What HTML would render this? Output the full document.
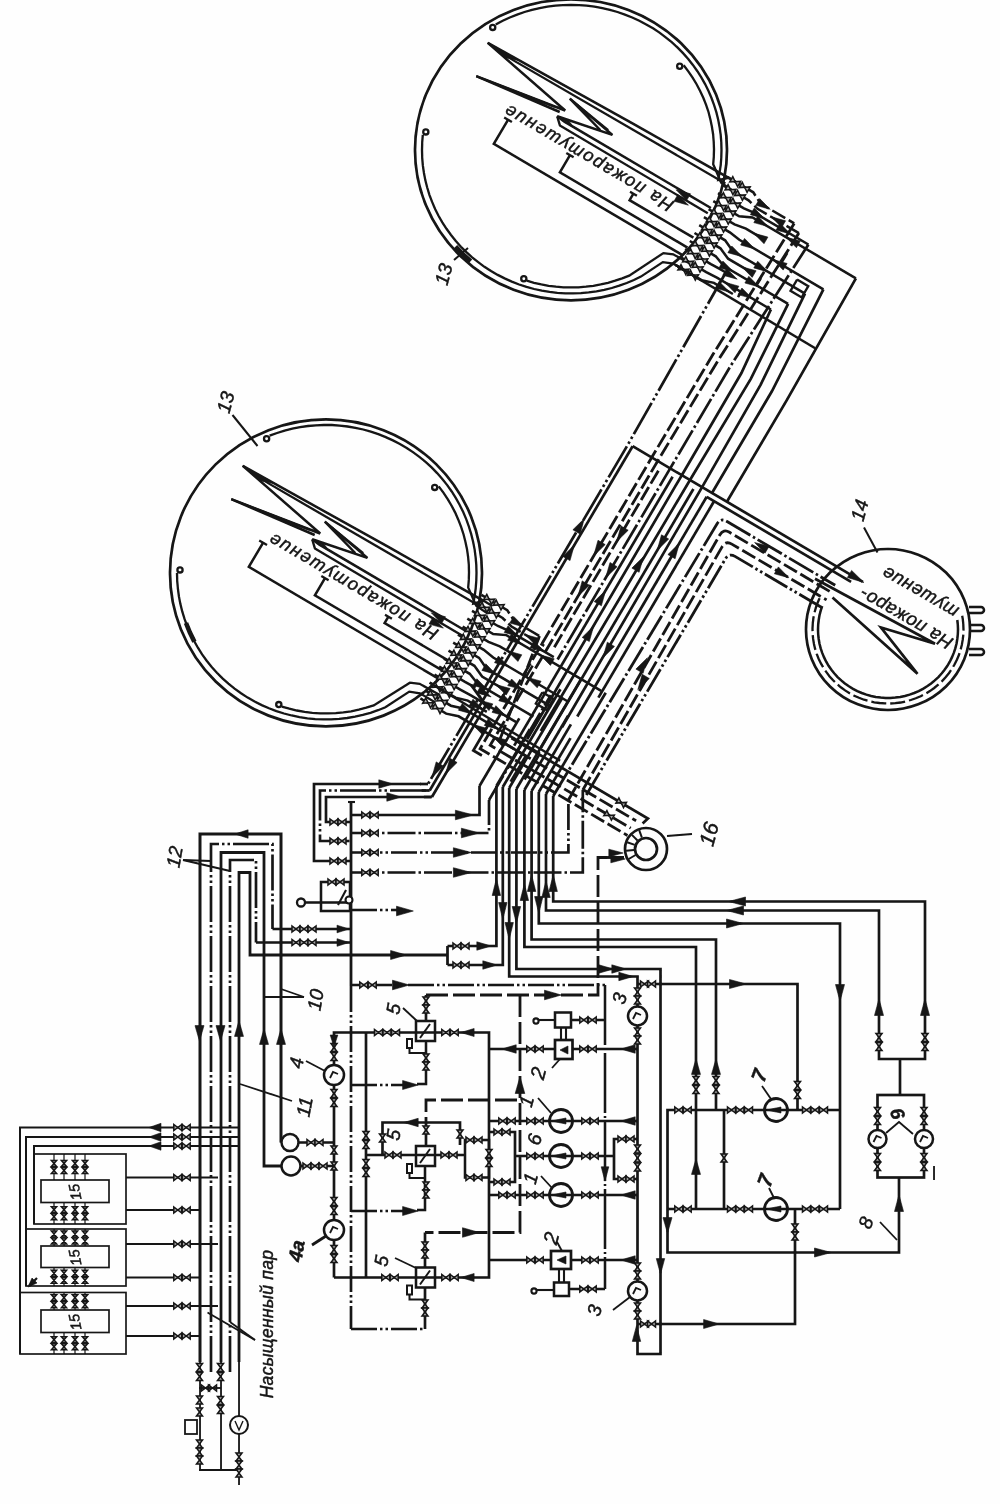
<!DOCTYPE html>
<html><head><meta charset="utf-8"><title>Схема</title>
<style>
html,body{margin:0;padding:0;background:#fefefe;}
body{width:1000px;height:1504px;overflow:hidden;font-family:"Liberation Sans",sans-serif;}
svg{display:block;}
svg *{stroke:#141414;}
svg polyline, svg path{fill:none;stroke-linecap:butt;stroke-linejoin:miter;}
svg text{stroke-width:0.45px;fill:#141414;font-family:"Liberation Sans",sans-serif;}
</style></head><body>
<svg width="1000" height="1504" viewBox="0 0 1000 1504">
<defs><filter id="bl" x="0" y="0" width="1000" height="1504" filterUnits="userSpaceOnUse"><feGaussianBlur stdDeviation="0.55"/></filter></defs>
<rect x="0" y="0" width="1000" height="1504" fill="#fefefe" stroke="none" style="stroke:none"/>
<g filter="url(#bl)">
<polyline points="200,1362 200,834 281,834 281,1142.5" stroke-width="3"/>
<polyline points="200,1362 200,1470" stroke-width="1.8"/>
<polyline points="211,1372 211,844 272.5,844 272.5,929" stroke-width="2.7" stroke-dasharray="36 3 2.5 3 2.5 3"/>
<polyline points="272.5,929 351,929" stroke-width="2.7"/>
<polyline points="221,1362 221,852.5 264,852.5 264,1166 282,1166" stroke-width="2.8"/>
<polyline points="221,1362 221,1470" stroke-width="1.8"/>
<polyline points="230,1372 230,860 256,860 256,942.5" stroke-width="2.7" stroke-dasharray="36 3 2.5 3 2.5 3"/>
<polyline points="256,942.5 351,942.5" stroke-width="2.7"/>
<polyline points="239,1362 239,872.5 250,872.5 250,955 447.5,955" stroke-width="2.8"/>
<polyline points="239,1362 239,1485" stroke-width="1.8"/>
<polygon points="234.9,834 248.1,829.8 248.1,838.2" fill="#141414" stroke-width="0.6"/>
<polygon points="199.5,1041.2 195,1025.6 204,1025.6" fill="#141414" stroke-width="0.6"/>
<polygon points="220.5,1041.2 216,1025.6 225,1025.6" fill="#141414" stroke-width="0.6"/>
<polygon points="239,1020.8 243.5,1036.4 234.5,1036.4" fill="#141414" stroke-width="0.6"/>
<polygon points="264,1028.8 268.5,1044.4 259.5,1044.4" fill="#141414" stroke-width="0.6"/>
<polygon points="281,1028.8 285.5,1044.4 276.5,1044.4" fill="#141414" stroke-width="0.6"/>
<polygon points="292,926 292,932 300,926 300,932" fill="#a8a8a8" stroke-width="1.5"/>
<polygon points="300,926 300,932 308,926 308,932" fill="#a8a8a8" stroke-width="1.5"/>
<polygon points="308,926 308,932 316,926 316,932" fill="#a8a8a8" stroke-width="1.5"/>
<polygon points="349,929 337,932.8 337,925.2" fill="#141414" stroke-width="0.6"/>
<polygon points="292,939.5 292,945.5 300,939.5 300,945.5" fill="#a8a8a8" stroke-width="1.5"/>
<polygon points="300,939.5 300,945.5 308,939.5 308,945.5" fill="#a8a8a8" stroke-width="1.5"/>
<polygon points="308,939.5 308,945.5 316,939.5 316,945.5" fill="#a8a8a8" stroke-width="1.5"/>
<polygon points="349,942.5 337,946.3 337,938.7" fill="#141414" stroke-width="0.6"/>
<polygon points="406.2,955 390.6,959.5 390.6,950.5" fill="#141414" stroke-width="0.6"/>
<text x="0" y="0" transform="translate(181 858) rotate(-80)" font-size="19.2" font-style="italic" font-weight="normal" text-anchor="middle">12</text>
<polyline points="183,860 211,861" stroke-width="1.8"/>
<polyline points="183,860 230,871" stroke-width="1.8"/>
<text x="0" y="0" transform="translate(322 1001) rotate(-80)" font-size="19.2" font-style="italic" font-weight="normal" text-anchor="middle">10</text>
<polyline points="304,997 265,997" stroke-width="1.8"/>
<polyline points="304,997 281,989" stroke-width="1.8"/>
<text x="0" y="0" transform="translate(311 1108) rotate(-80)" font-size="19.2" font-style="italic" font-weight="normal" text-anchor="middle">11</text>
<polyline points="240,1084 292,1101" stroke-width="1.8"/>
<polyline points="421,784 314,784 314,861 351,861" stroke-width="2.7"/>
<polyline points="426,790.5 320,790.5 320,841 351,841" stroke-width="2.7" stroke-dasharray="36 3 2.5 3 2.5 3"/>
<polyline points="431,797 326,797 326,822 351,822" stroke-width="2.7"/>
<polygon points="330,858 330,864 338,858 338,864" fill="#a8a8a8" stroke-width="1.5"/>
<polygon points="338,858 338,864 346,858 346,864" fill="#a8a8a8" stroke-width="1.5"/>
<polygon points="330,838 330,844 338,838 338,844" fill="#a8a8a8" stroke-width="1.5"/>
<polygon points="338,838 338,844 346,838 346,844" fill="#a8a8a8" stroke-width="1.5"/>
<polygon points="330,819 330,825 338,819 338,825" fill="#a8a8a8" stroke-width="1.5"/>
<polygon points="338,819 338,825 346,819 346,825" fill="#a8a8a8" stroke-width="1.5"/>
<polygon points="393.2,784 378.8,788.2 378.8,779.8" fill="#141414" stroke-width="0.6"/>
<polygon points="401.2,797 386.8,801.2 386.8,792.8" fill="#141414" stroke-width="0.6"/>
<polyline points="351,802 351,986" stroke-width="2.8"/>
<polyline points="351,986 351,1329" stroke-width="2.7" stroke-dasharray="26 3 2.5 3 2.5 3"/>
<polyline points="348,802 355,802" stroke-width="2.1"/>
<polyline points="351,815 479.5,815 479.5,786" stroke-width="2.7"/>
<polyline points="351,833 489,833 489,800" stroke-width="2.7" stroke-dasharray="28 3 2.5 3"/>
<polyline points="351,852.5 568.4,852.5 568.4,800" stroke-width="2.7" stroke-dasharray="26 3 2.5 3 2.5 3"/>
<polyline points="351,872.5 582.8,872.5 582.8,790" stroke-width="2.7" stroke-dasharray="28 3 2.5 3"/>
<polygon points="361.8,812 361.8,818 369.8,812 369.8,818" fill="#a8a8a8" stroke-width="1.5"/>
<polygon points="370.2,812 370.2,818 378.2,812 378.2,818" fill="#a8a8a8" stroke-width="1.5"/>
<polygon points="361.8,830 361.8,836 369.8,830 369.8,836" fill="#a8a8a8" stroke-width="1.5"/>
<polygon points="370.2,830 370.2,836 378.2,830 378.2,836" fill="#a8a8a8" stroke-width="1.5"/>
<polygon points="361.8,849.5 361.8,855.5 369.8,849.5 369.8,855.5" fill="#a8a8a8" stroke-width="1.5"/>
<polygon points="370.2,849.5 370.2,855.5 378.2,849.5 378.2,855.5" fill="#a8a8a8" stroke-width="1.5"/>
<polygon points="361.8,869.5 361.8,875.5 369.8,869.5 369.8,875.5" fill="#a8a8a8" stroke-width="1.5"/>
<polygon points="370.2,869.5 370.2,875.5 378.2,869.5 378.2,875.5" fill="#a8a8a8" stroke-width="1.5"/>
<polygon points="473.4,815 455.4,819.8 455.4,810.2" fill="#141414" stroke-width="0.6"/>
<polygon points="479.4,833 461.4,837.8 461.4,828.2" fill="#141414" stroke-width="0.6"/>
<polygon points="471.4,852.5 453.4,857.3 453.4,847.7" fill="#141414" stroke-width="0.6"/>
<polygon points="471.4,872.5 453.4,877.3 453.4,867.7" fill="#141414" stroke-width="0.6"/>
<rect x="321" y="882" width="29" height="29" stroke-width="2.5" fill="none"/>
<circle cx="301" cy="902.5" r="4" stroke-width="2.3" fill="#fdfdfd"/>
<polyline points="305,902.5 351,902.5" stroke-width="2.3"/>
<polygon points="328,879 328,885 336,879 336,885" fill="#a8a8a8" stroke-width="1.5"/>
<polygon points="336,879 336,885 344,879 344,885" fill="#a8a8a8" stroke-width="1.5"/>
<polyline points="338,905 346,890" stroke-width="2.1"/>
<circle cx="349" cy="900" r="3.5" stroke-width="2.1" fill="#fdfdfd"/>
<polyline points="351,910 400,910" stroke-width="2.7" stroke-dasharray="26 3 2.5 3 2.5 3"/>
<polygon points="413.3,911 396.5,915.8 396.5,906.2" fill="#141414" stroke-width="0.6"/>
<polyline points="447.5,946 447.5,965" stroke-width="2.7"/>
<polyline points="447.5,946 496.4,946 496.4,786" stroke-width="2.7"/>
<polyline points="447.5,965 502.8,965 502.8,787" stroke-width="2.7"/>
<polygon points="453,943 453,949 461,943 461,949" fill="#a8a8a8" stroke-width="1.5"/>
<polygon points="461,943 461,949 469,943 469,949" fill="#a8a8a8" stroke-width="1.5"/>
<polygon points="453,962 453,968 461,962 461,968" fill="#a8a8a8" stroke-width="1.5"/>
<polygon points="461,962 461,968 469,962 469,968" fill="#a8a8a8" stroke-width="1.5"/>
<polygon points="491.2,946 476.8,950.2 476.8,941.8" fill="#141414" stroke-width="0.6"/>
<polygon points="497.2,965 482.8,969.2 482.8,960.8" fill="#141414" stroke-width="0.6"/>
<polyline points="351,985 392,985" stroke-width="2.7"/>
<polygon points="359.8,982 359.8,988 367.8,982 367.8,988" fill="#a8a8a8" stroke-width="1.5"/>
<polygon points="368.2,982 368.2,988 376.2,982 376.2,988" fill="#a8a8a8" stroke-width="1.5"/>
<polygon points="409.3,985 392.5,989.8 392.5,980.2" fill="#141414" stroke-width="0.6"/>
<polyline points="408,985 605,985" stroke-width="2.5" stroke-dasharray="26 3 2.5 3 2.5 3"/>
<polyline points="605,985 605,1289" stroke-width="2.5" stroke-dasharray="60 3 2 3"/>
<polyline points="509.2,788 509.2,976.5 637.5,976.5 637.5,1354 660.5,1354 660.5,969 516.4,969 516.4,789" stroke-width="2.7"/>
<polyline points="524.4,790 524.4,947 696,947 696,1209" stroke-width="2.7"/>
<polyline points="531.6,791 531.6,939.5 716,939.5 716,1110" stroke-width="2.7"/>
<polyline points="538.8,792 538.8,923.5 840,923.5 840,1209" stroke-width="2.7"/>
<polyline points="546,794 546,910.5 879,910.5 879,1059 925,1059 925,901.5 553.2,901.5 553.2,796" stroke-width="2.7"/>
<polygon points="496.4,878.7 500.6,895.5 492.2,895.5" fill="#141414" stroke-width="0.6"/>
<polygon points="524.4,883.7 528.6,900.5 520.2,900.5" fill="#141414" stroke-width="0.6"/>
<polygon points="531.6,874.7 535.8,891.5 527.4,891.5" fill="#141414" stroke-width="0.6"/>
<polygon points="546,880.7 550.2,897.5 541.8,897.5" fill="#141414" stroke-width="0.6"/>
<polygon points="553.2,874.7 557.4,891.5 549,891.5" fill="#141414" stroke-width="0.6"/>
<polygon points="502.8,919.3 498.6,902.5 507,902.5" fill="#141414" stroke-width="0.6"/>
<polygon points="509.2,939.3 505,922.5 513.4,922.5" fill="#141414" stroke-width="0.6"/>
<polygon points="516.4,923.3 512.2,906.5 520.6,906.5" fill="#141414" stroke-width="0.6"/>
<polygon points="538.8,913.3 534.6,896.5 543,896.5" fill="#141414" stroke-width="0.6"/>
<polygon points="728.7,901.5 745.5,897 745.5,906" fill="#141414" stroke-width="0.6"/>
<polygon points="726.7,910.5 743.5,906 743.5,915" fill="#141414" stroke-width="0.6"/>
<polygon points="743.3,923.5 726.5,928 726.5,919" fill="#141414" stroke-width="0.6"/>
<polygon points="626.2,969 611.8,973.2 611.8,964.8" fill="#141414" stroke-width="0.6"/>
<polygon points="633.2,976.5 618.8,980.7 618.8,972.3" fill="#141414" stroke-width="0.6"/>
<polyline points="426,995 426,1021" stroke-width="2.7"/>
<polyline points="426,995 598,995 598,857.5 624,857.5" stroke-width="2.8" stroke-dasharray="22 5"/>
<polygon points="561.3,995 544.5,999.8 544.5,990.2" fill="#141414" stroke-width="0.6"/>
<polygon points="623.2,853 608.8,856.8 608.8,849.2" fill="#141414" stroke-width="0.6"/>
<polygon points="625.2,859 610.8,862.8 610.8,855.2" fill="#141414" stroke-width="0.6"/>
<polyline points="603,857.5 616,857.5" stroke-width="2.8"/>
<polyline points="520,995 520,1232.5 425,1232.5" stroke-width="2.8" stroke-dasharray="22 5"/>
<polyline points="425,1232.5 425,1267" stroke-width="2.7"/>
<polygon points="520,1076.7 524.8,1093.5 515.2,1093.5" fill="#141414" stroke-width="0.6"/>
<polygon points="479.3,1232.5 462.5,1237.3 462.5,1227.7" fill="#141414" stroke-width="0.6"/>
<polyline points="517,1100 426,1100 426,1122" stroke-width="2.8" stroke-dasharray="22 5"/>
<polyline points="426,1122 426,1146" stroke-width="2.7"/>
<polyline points="334,1277.5 334,1032.5 489,1032.5 489,1277.5 334,1277.5" stroke-width="2.7"/>
<circle cx="334" cy="1075" r="10" stroke-width="2.5" fill="#fdfdfd"/>
<circle cx="334" cy="1230" r="10" stroke-width="2.5" fill="#fdfdfd"/>
<polyline points="330,1078 333,1072 338,1074" stroke-width="1.8"/>
<polyline points="330,1233 333,1227 338,1229" stroke-width="1.8"/>
<polygon points="337,1043.5 331,1043.5 337,1051.5 331,1051.5" fill="#a8a8a8" stroke-width="1.5"/>
<polygon points="337,1052.5 331,1052.5 337,1060.5 331,1060.5" fill="#a8a8a8" stroke-width="1.5"/>
<polygon points="337,1089.5 331,1089.5 337,1097.5 331,1097.5" fill="#a8a8a8" stroke-width="1.5"/>
<polygon points="337,1098.5 331,1098.5 337,1106.5 331,1106.5" fill="#a8a8a8" stroke-width="1.5"/>
<polygon points="337,1197.5 331,1197.5 337,1205.5 331,1205.5" fill="#a8a8a8" stroke-width="1.5"/>
<polygon points="337,1206.5 331,1206.5 337,1214.5 331,1214.5" fill="#a8a8a8" stroke-width="1.5"/>
<polygon points="337,1245.5 331,1245.5 337,1253.5 331,1253.5" fill="#a8a8a8" stroke-width="1.5"/>
<polygon points="337,1254.5 331,1254.5 337,1262.5 331,1262.5" fill="#a8a8a8" stroke-width="1.5"/>
<polygon points="334,1047 330.2,1035 337.8,1035" fill="#141414" stroke-width="0.6"/>
<circle cx="290" cy="1142.5" r="8.5" stroke-width="2.5" fill="#fdfdfd"/>
<circle cx="291" cy="1166" r="9.5" stroke-width="2.5" fill="#fdfdfd"/>
<polyline points="298.5,1142.5 334,1142.5" stroke-width="2.5"/>
<polyline points="300.5,1166 334,1166" stroke-width="2.5"/>
<polygon points="307,1139.5 307,1145.5 315,1139.5 315,1145.5" fill="#a8a8a8" stroke-width="1.5"/>
<polygon points="315,1139.5 315,1145.5 323,1139.5 323,1145.5" fill="#a8a8a8" stroke-width="1.5"/>
<polygon points="303,1163 303,1169 311,1163 311,1169" fill="#a8a8a8" stroke-width="1.5"/>
<polygon points="311,1163 311,1169 319,1163 319,1169" fill="#a8a8a8" stroke-width="1.5"/>
<polygon points="319,1163 319,1169 327,1163 327,1169" fill="#a8a8a8" stroke-width="1.5"/>
<polygon points="337,1146 331,1146 337,1154 331,1154" fill="#a8a8a8" stroke-width="1.5"/>
<polygon points="337,1162 331,1162 337,1170 331,1170" fill="#a8a8a8" stroke-width="1.5"/>
<text x="0" y="0" transform="translate(303 1064) rotate(-80)" font-size="19.2" font-style="italic" font-weight="normal" text-anchor="middle">4</text>
<polyline points="306,1061 325,1071" stroke-width="1.8"/>
<text x="0" y="0" transform="translate(303 1252) rotate(-80)" font-size="19.2" font-style="italic" font-weight="bold" text-anchor="middle">4a</text>
<polyline points="312,1245 326,1236" stroke-width="2.8"/>
<polyline points="366,1032.5 366,1277.5" stroke-width="2.7"/>
<polygon points="369,1131.5 363,1131.5 369,1139.5 363,1139.5" fill="#a8a8a8" stroke-width="1.5"/>
<polygon points="369,1140.5 363,1140.5 369,1148.5 363,1148.5" fill="#a8a8a8" stroke-width="1.5"/>
<polygon points="369,1159.5 363,1159.5 369,1167.5 363,1167.5" fill="#a8a8a8" stroke-width="1.5"/>
<polygon points="369,1168.5 363,1168.5 369,1176.5 363,1176.5" fill="#a8a8a8" stroke-width="1.5"/>
<polyline points="351,1085 405,1085" stroke-width="2.7" stroke-dasharray="26 3 2.5 3 2.5 3"/>
<polygon points="418.2,1085 402.6,1089.5 402.6,1080.5" fill="#141414" stroke-width="0.6"/>
<polyline points="417,1084 426,1084 426,1041" stroke-width="2.5"/>
<polyline points="351,1211 405,1211" stroke-width="2.7" stroke-dasharray="26 3 2.5 3 2.5 3"/>
<polygon points="418.2,1211 402.6,1215.5 402.6,1206.5" fill="#141414" stroke-width="0.6"/>
<polyline points="417,1210 425,1210 425,1166" stroke-width="2.5"/>
<polyline points="351,1329 425,1329" stroke-width="2.7" stroke-dasharray="26 3 2.5 3 2.5 3"/>
<polyline points="425,1288 425,1329" stroke-width="2.7"/>
<rect x="416" y="1021" width="19" height="20" stroke-width="2.5" fill="none"/>
<polyline points="420,1038 430,1024" stroke-width="2"/>
<rect x="407" y="1039" width="5" height="9" stroke-width="2" fill="none"/>
<polyline points="409.5,1048 409.5,1053 426,1053" stroke-width="2"/>
<rect x="416" y="1146" width="19" height="20" stroke-width="2.5" fill="none"/>
<polyline points="420,1163 430,1149" stroke-width="2"/>
<rect x="407" y="1164" width="5" height="9" stroke-width="2" fill="none"/>
<polyline points="409.5,1173 409.5,1178 426,1178" stroke-width="2"/>
<rect x="416" y="1267.5" width="19" height="20" stroke-width="2.5" fill="none"/>
<polyline points="420,1284.5 430,1270.5" stroke-width="2"/>
<rect x="407" y="1285.5" width="5" height="9" stroke-width="2" fill="none"/>
<polyline points="409.5,1294.5 409.5,1299.5 426,1299.5" stroke-width="2"/>
<polygon points="374.5,1029.5 374.5,1035.5 382.5,1029.5 382.5,1035.5" fill="#a8a8a8" stroke-width="1.5"/>
<polygon points="383,1029.5 383,1035.5 391,1029.5 391,1035.5" fill="#a8a8a8" stroke-width="1.5"/>
<polygon points="391.5,1029.5 391.5,1035.5 399.5,1029.5 399.5,1035.5" fill="#a8a8a8" stroke-width="1.5"/>
<polygon points="441.8,1029.5 441.8,1035.5 449.8,1029.5 449.8,1035.5" fill="#a8a8a8" stroke-width="1.5"/>
<polygon points="450.2,1029.5 450.2,1035.5 458.2,1029.5 458.2,1035.5" fill="#a8a8a8" stroke-width="1.5"/>
<polygon points="460.9,1032.5 474.1,1028.5 474.1,1036.5" fill="#141414" stroke-width="0.6"/>
<polygon points="429,997 423,997 429,1005 423,1005" fill="#a8a8a8" stroke-width="1.5"/>
<polygon points="429,1005 423,1005 429,1013 423,1013" fill="#a8a8a8" stroke-width="1.5"/>
<polygon points="429,1054 423,1054 429,1062 423,1062" fill="#a8a8a8" stroke-width="1.5"/>
<polygon points="429,1062 423,1062 429,1070 423,1070" fill="#a8a8a8" stroke-width="1.5"/>
<text x="0" y="0" transform="translate(400 1010) rotate(-80)" font-size="19.2" font-style="italic" font-weight="normal" text-anchor="middle">5</text>
<polyline points="403,1008 417,1021" stroke-width="1.8"/>
<polyline points="366,1155 465,1155" stroke-width="2.7"/>
<polyline points="382.5,1155 382.5,1122.5 460,1122.5 460,1145" stroke-width="2.7"/>
<polygon points="403.8,1122.5 418.2,1118.3 418.2,1126.7" fill="#141414" stroke-width="0.6"/>
<polygon points="385,1152 385,1158 393,1152 393,1158" fill="#a8a8a8" stroke-width="1.5"/>
<polygon points="393,1152 393,1158 401,1152 401,1158" fill="#a8a8a8" stroke-width="1.5"/>
<polygon points="441,1152 441,1158 449,1152 449,1158" fill="#a8a8a8" stroke-width="1.5"/>
<polygon points="449,1152 449,1158 457,1152 457,1158" fill="#a8a8a8" stroke-width="1.5"/>
<polygon points="385.5,1134 379.5,1134 385.5,1142 379.5,1142" fill="#a8a8a8" stroke-width="1.5"/>
<polygon points="463,1130 457,1130 463,1138 457,1138" fill="#a8a8a8" stroke-width="1.5"/>
<polygon points="429,1126 423,1126 429,1134 423,1134" fill="#a8a8a8" stroke-width="1.5"/>
<polygon points="429,1182 423,1182 429,1190 423,1190" fill="#a8a8a8" stroke-width="1.5"/>
<polygon points="429,1190 423,1190 429,1198 423,1198" fill="#a8a8a8" stroke-width="1.5"/>
<text x="0" y="0" transform="translate(400 1136) rotate(-80)" font-size="19.2" font-style="italic" font-weight="normal" text-anchor="middle">5</text>
<rect x="465" y="1140" width="24" height="37.5" stroke-width="2.5" fill="none"/>
<polygon points="466,1137 466,1143 474,1137 474,1143" fill="#a8a8a8" stroke-width="1.5"/>
<polygon points="474,1137 474,1143 482,1137 482,1143" fill="#a8a8a8" stroke-width="1.5"/>
<polygon points="466,1174.5 466,1180.5 474,1174.5 474,1180.5" fill="#a8a8a8" stroke-width="1.5"/>
<polygon points="474,1174.5 474,1180.5 482,1174.5 482,1180.5" fill="#a8a8a8" stroke-width="1.5"/>
<polygon points="492,1149.5 486,1149.5 492,1157.5 486,1157.5" fill="#a8a8a8" stroke-width="1.5"/>
<polygon points="492,1158.5 486,1158.5 492,1166.5 486,1166.5" fill="#a8a8a8" stroke-width="1.5"/>
<polygon points="381.8,1274.5 381.8,1280.5 389.8,1274.5 389.8,1280.5" fill="#a8a8a8" stroke-width="1.5"/>
<polygon points="390.2,1274.5 390.2,1280.5 398.2,1274.5 398.2,1280.5" fill="#a8a8a8" stroke-width="1.5"/>
<polygon points="441.8,1274.5 441.8,1280.5 449.8,1274.5 449.8,1280.5" fill="#a8a8a8" stroke-width="1.5"/>
<polygon points="450.2,1274.5 450.2,1280.5 458.2,1274.5 458.2,1280.5" fill="#a8a8a8" stroke-width="1.5"/>
<polygon points="460.9,1277.5 474.1,1273.5 474.1,1281.5" fill="#141414" stroke-width="0.6"/>
<polygon points="428,1242 422,1242 428,1250 422,1250" fill="#a8a8a8" stroke-width="1.5"/>
<polygon points="428,1250 422,1250 428,1258 422,1258" fill="#a8a8a8" stroke-width="1.5"/>
<polygon points="428,1300 422,1300 428,1308 422,1308" fill="#a8a8a8" stroke-width="1.5"/>
<polygon points="428,1308 422,1308 428,1316 422,1316" fill="#a8a8a8" stroke-width="1.5"/>
<text x="0" y="0" transform="translate(388 1262) rotate(-80)" font-size="19.2" font-style="italic" font-weight="normal" text-anchor="middle">5</text>
<polyline points="395,1258 416,1268" stroke-width="1.8"/>
<polyline points="489,1049 637.5,1049" stroke-width="2.7"/>
<rect x="555" y="1040" width="17.5" height="19" stroke-width="2.7" fill="#fdfdfd"/>
<rect x="555" y="1012.5" width="16" height="15" stroke-width="2.5" fill="none"/>
<polyline points="561,1027.5 561,1040" stroke-width="2.1"/>
<polyline points="566,1027.5 566,1040" stroke-width="2.1"/>
<circle cx="536" cy="1021" r="2.6" stroke-width="2.1" fill="#fdfdfd"/>
<polyline points="539,1020 555,1020" stroke-width="2.1"/>
<polyline points="571,1020 605,1020" stroke-width="2.3"/>
<polygon points="579.8,1017 579.8,1023 587.8,1017 587.8,1023" fill="#a8a8a8" stroke-width="1.5"/>
<polygon points="588.2,1017 588.2,1023 596.2,1017 596.2,1023" fill="#a8a8a8" stroke-width="1.5"/>
<polygon points="560,1050 568,1046 568,1054" fill="#141414" stroke-width="0.6"/>
<polygon points="501.8,1049 516.2,1044.8 516.2,1053.2" fill="#141414" stroke-width="0.6"/>
<polygon points="526.8,1046 526.8,1052 534.8,1046 534.8,1052" fill="#a8a8a8" stroke-width="1.5"/>
<polygon points="535.2,1046 535.2,1052 543.2,1046 543.2,1052" fill="#a8a8a8" stroke-width="1.5"/>
<polygon points="579.8,1046 579.8,1052 587.8,1046 587.8,1052" fill="#a8a8a8" stroke-width="1.5"/>
<polygon points="588.2,1046 588.2,1052 596.2,1046 596.2,1052" fill="#a8a8a8" stroke-width="1.5"/>
<polygon points="620.8,1049 635.2,1044.8 635.2,1053.2" fill="#141414" stroke-width="0.6"/>
<text x="0" y="0" transform="translate(545 1075) rotate(-75)" font-size="20.5" font-style="italic" font-weight="normal" text-anchor="middle">2</text>
<polyline points="552,1068 560,1059" stroke-width="1.8"/>
<circle cx="561" cy="1121" r="11.5" stroke-width="2.8" fill="none"/>
<polygon points="551,1121 566,1118 566,1124" fill="#141414" stroke-width="0.6"/>
<circle cx="561" cy="1156" r="11.5" stroke-width="2.8" fill="none"/>
<polygon points="551,1156 566,1153 566,1159" fill="#141414" stroke-width="0.6"/>
<circle cx="561" cy="1195" r="11.5" stroke-width="2.8" fill="none"/>
<polygon points="551,1195 566,1192 566,1198" fill="#141414" stroke-width="0.6"/>
<polyline points="489,1121 637.5,1121" stroke-width="2.7"/>
<polyline points="489,1195 637.5,1195" stroke-width="2.7"/>
<polyline points="515,1156 614,1156" stroke-width="2.7"/>
<polygon points="498.8,1118 498.8,1124 506.8,1118 506.8,1124" fill="#a8a8a8" stroke-width="1.5"/>
<polygon points="507.2,1118 507.2,1124 515.2,1118 515.2,1124" fill="#a8a8a8" stroke-width="1.5"/>
<polygon points="526.8,1118 526.8,1124 534.8,1118 534.8,1124" fill="#a8a8a8" stroke-width="1.5"/>
<polygon points="535.2,1118 535.2,1124 543.2,1118 543.2,1124" fill="#a8a8a8" stroke-width="1.5"/>
<polygon points="581.8,1118 581.8,1124 589.8,1118 589.8,1124" fill="#a8a8a8" stroke-width="1.5"/>
<polygon points="590.2,1118 590.2,1124 598.2,1118 598.2,1124" fill="#a8a8a8" stroke-width="1.5"/>
<polygon points="620.8,1121 635.2,1116.8 635.2,1125.2" fill="#141414" stroke-width="0.6"/>
<polygon points="498.8,1192 498.8,1198 506.8,1192 506.8,1198" fill="#a8a8a8" stroke-width="1.5"/>
<polygon points="507.2,1192 507.2,1198 515.2,1192 515.2,1198" fill="#a8a8a8" stroke-width="1.5"/>
<polygon points="526.8,1192 526.8,1198 534.8,1192 534.8,1198" fill="#a8a8a8" stroke-width="1.5"/>
<polygon points="535.2,1192 535.2,1198 543.2,1192 543.2,1198" fill="#a8a8a8" stroke-width="1.5"/>
<polygon points="581.8,1192 581.8,1198 589.8,1192 589.8,1198" fill="#a8a8a8" stroke-width="1.5"/>
<polygon points="590.2,1192 590.2,1198 598.2,1192 598.2,1198" fill="#a8a8a8" stroke-width="1.5"/>
<polygon points="620.8,1195 635.2,1190.8 635.2,1199.2" fill="#141414" stroke-width="0.6"/>
<polygon points="526.8,1153 526.8,1159 534.8,1153 534.8,1159" fill="#a8a8a8" stroke-width="1.5"/>
<polygon points="535.2,1153 535.2,1159 543.2,1153 543.2,1159" fill="#a8a8a8" stroke-width="1.5"/>
<polygon points="581.8,1153 581.8,1159 589.8,1153 589.8,1159" fill="#a8a8a8" stroke-width="1.5"/>
<polygon points="590.2,1153 590.2,1159 598.2,1153 598.2,1159" fill="#a8a8a8" stroke-width="1.5"/>
<polyline points="489,1132 515,1132 515,1182 489,1182" stroke-width="2.7"/>
<polygon points="494,1129 494,1135 502,1129 502,1135" fill="#a8a8a8" stroke-width="1.5"/>
<polygon points="502,1129 502,1135 510,1129 510,1135" fill="#a8a8a8" stroke-width="1.5"/>
<polygon points="494,1179 494,1185 502,1179 502,1185" fill="#a8a8a8" stroke-width="1.5"/>
<polygon points="502,1179 502,1185 510,1179 510,1185" fill="#a8a8a8" stroke-width="1.5"/>
<polyline points="637.5,1139 614,1139 614,1179 637.5,1179" stroke-width="2.7"/>
<polygon points="618,1136 618,1142 626,1136 626,1142" fill="#a8a8a8" stroke-width="1.5"/>
<polygon points="626,1136 626,1142 634,1136 634,1142" fill="#a8a8a8" stroke-width="1.5"/>
<polygon points="618,1176 618,1182 626,1176 626,1182" fill="#a8a8a8" stroke-width="1.5"/>
<polygon points="626,1176 626,1182 634,1176 634,1182" fill="#a8a8a8" stroke-width="1.5"/>
<polygon points="640.5,1145 634.5,1145 640.5,1153 634.5,1153" fill="#a8a8a8" stroke-width="1.5"/>
<polygon points="640.5,1154 634.5,1154 640.5,1162 634.5,1162" fill="#a8a8a8" stroke-width="1.5"/>
<polygon points="640.5,1163 634.5,1163 640.5,1171 634.5,1171" fill="#a8a8a8" stroke-width="1.5"/>
<text x="0" y="0" transform="translate(533 1103) rotate(-75)" font-size="19.2" font-style="italic" font-weight="normal" text-anchor="middle">1</text>
<polyline points="538,1098 551,1113" stroke-width="1.8"/>
<text x="0" y="0" transform="translate(541 1141) rotate(-75)" font-size="19.2" font-style="italic" font-weight="normal" text-anchor="middle">6</text>
<text x="0" y="0" transform="translate(537 1180) rotate(-75)" font-size="19.2" font-style="italic" font-weight="normal" text-anchor="middle">1</text>
<polyline points="541,1176 552,1188" stroke-width="1.8"/>
<polyline points="489,1260 637.5,1260" stroke-width="2.7"/>
<rect x="551" y="1251" width="20" height="18" stroke-width="2.7" fill="#fdfdfd"/>
<rect x="554" y="1282.5" width="15" height="13.5" stroke-width="2.5" fill="none"/>
<polyline points="559,1269 559,1282.5" stroke-width="2.1"/>
<polyline points="564,1269 564,1282.5" stroke-width="2.1"/>
<polygon points="557,1260 566,1256 566,1264" fill="#141414" stroke-width="0.6"/>
<circle cx="534" cy="1291" r="2.6" stroke-width="2.1" fill="#fdfdfd"/>
<polyline points="537,1290 554,1290" stroke-width="2.1"/>
<polyline points="569,1289 605,1289" stroke-width="2.3"/>
<polygon points="579.8,1286 579.8,1292 587.8,1286 587.8,1292" fill="#a8a8a8" stroke-width="1.5"/>
<polygon points="588.2,1286 588.2,1292 596.2,1286 596.2,1292" fill="#a8a8a8" stroke-width="1.5"/>
<polygon points="526.8,1257 526.8,1263 534.8,1257 534.8,1263" fill="#a8a8a8" stroke-width="1.5"/>
<polygon points="535.2,1257 535.2,1263 543.2,1257 543.2,1263" fill="#a8a8a8" stroke-width="1.5"/>
<polygon points="581.8,1257 581.8,1263 589.8,1257 589.8,1263" fill="#a8a8a8" stroke-width="1.5"/>
<polygon points="590.2,1257 590.2,1263 598.2,1257 598.2,1263" fill="#a8a8a8" stroke-width="1.5"/>
<polygon points="620.8,1260 635.2,1255.8 635.2,1264.2" fill="#141414" stroke-width="0.6"/>
<text x="0" y="0" transform="translate(558 1240) rotate(-75)" font-size="20.5" font-style="italic" font-weight="normal" text-anchor="middle">2</text>
<polyline points="557,1242 562,1251" stroke-width="1.8"/>
<polygon points="605,1181.2 601.2,1166.8 608.8,1166.8" fill="#141414" stroke-width="0.6"/>
<circle cx="637.5" cy="1016" r="9.5" stroke-width="2.5" fill="#fdfdfd"/>
<circle cx="637.5" cy="1291" r="9.5" stroke-width="2.5" fill="#fdfdfd"/>
<polyline points="633,1019 636,1013 641,1015" stroke-width="1.8"/>
<polyline points="633,1294 636,1288 641,1290" stroke-width="1.8"/>
<polygon points="640.5,988 634.5,988 640.5,996 634.5,996" fill="#a8a8a8" stroke-width="1.5"/>
<polygon points="640.5,996 634.5,996 640.5,1004 634.5,1004" fill="#a8a8a8" stroke-width="1.5"/>
<polygon points="640.5,1028 634.5,1028 640.5,1036 634.5,1036" fill="#a8a8a8" stroke-width="1.5"/>
<polygon points="640.5,1036 634.5,1036 640.5,1044 634.5,1044" fill="#a8a8a8" stroke-width="1.5"/>
<polygon points="640.5,1263 634.5,1263 640.5,1271 634.5,1271" fill="#a8a8a8" stroke-width="1.5"/>
<polygon points="640.5,1271 634.5,1271 640.5,1279 634.5,1279" fill="#a8a8a8" stroke-width="1.5"/>
<polygon points="640.5,1303 634.5,1303 640.5,1311 634.5,1311" fill="#a8a8a8" stroke-width="1.5"/>
<polygon points="640.5,1311 634.5,1311 640.5,1319 634.5,1319" fill="#a8a8a8" stroke-width="1.5"/>
<text x="0" y="0" transform="translate(626 1000) rotate(-75)" font-size="19.2" font-style="italic" font-weight="normal" text-anchor="middle">3</text>
<text x="0" y="0" transform="translate(601 1312) rotate(-75)" font-size="19.2" font-style="italic" font-weight="normal" text-anchor="middle">3</text>
<polyline points="613,1310 630,1297" stroke-width="1.8"/>
<polygon points="660.5,1274.2 656.3,1258.6 664.7,1258.6" fill="#141414" stroke-width="0.6"/>
<polygon points="636.5,1325.8 640.7,1341.4 632.3,1341.4" fill="#141414" stroke-width="0.6"/>
<polyline points="637.5,1324 795,1324 795,1209" stroke-width="2.7"/>
<polygon points="640.5,1321 640.5,1327 648.5,1321 648.5,1327" fill="#a8a8a8" stroke-width="1.5"/>
<polygon points="647.5,1321 647.5,1327 655.5,1321 655.5,1327" fill="#a8a8a8" stroke-width="1.5"/>
<polygon points="719.2,1324 703.6,1328.5 703.6,1319.5" fill="#141414" stroke-width="0.6"/>
<polyline points="637.5,984 797.5,984 797.5,1110" stroke-width="2.7"/>
<polygon points="640.5,981 640.5,987 648.5,981 648.5,987" fill="#a8a8a8" stroke-width="1.5"/>
<polygon points="647.5,981 647.5,987 655.5,981 655.5,987" fill="#a8a8a8" stroke-width="1.5"/>
<polygon points="746.3,984 729.5,988.5 729.5,979.5" fill="#141414" stroke-width="0.6"/>
<polygon points="613.2,969 598.8,973.2 598.8,964.8" fill="#141414" stroke-width="0.6"/>
<polyline points="899,1177.5 899,1252.5 667.5,1252.5 667.5,1110 840,1110" stroke-width="2.7"/>
<polyline points="667.5,1209 840,1209" stroke-width="2.7"/>
<polyline points="724,1110 724,1209" stroke-width="2.7"/>
<circle cx="776" cy="1110" r="11.5" stroke-width="2.8" fill="none"/>
<circle cx="776" cy="1209" r="11.5" stroke-width="2.8" fill="none"/>
<polygon points="766,1110 781,1107 781,1113" fill="#141414" stroke-width="0.6"/>
<polygon points="766,1209 781,1206 781,1212" fill="#141414" stroke-width="0.6"/>
<polygon points="674.8,1107 674.8,1113 682.8,1107 682.8,1113" fill="#a8a8a8" stroke-width="1.5"/>
<polygon points="683.2,1107 683.2,1113 691.2,1107 691.2,1113" fill="#a8a8a8" stroke-width="1.5"/>
<polygon points="727.5,1107 727.5,1113 735.5,1107 735.5,1113" fill="#a8a8a8" stroke-width="1.5"/>
<polygon points="736,1107 736,1113 744,1107 744,1113" fill="#a8a8a8" stroke-width="1.5"/>
<polygon points="744.5,1107 744.5,1113 752.5,1107 752.5,1113" fill="#a8a8a8" stroke-width="1.5"/>
<polygon points="802.5,1107 802.5,1113 810.5,1107 810.5,1113" fill="#a8a8a8" stroke-width="1.5"/>
<polygon points="811,1107 811,1113 819,1107 819,1113" fill="#a8a8a8" stroke-width="1.5"/>
<polygon points="819.5,1107 819.5,1113 827.5,1107 827.5,1113" fill="#a8a8a8" stroke-width="1.5"/>
<polygon points="674.8,1206 674.8,1212 682.8,1206 682.8,1212" fill="#a8a8a8" stroke-width="1.5"/>
<polygon points="683.2,1206 683.2,1212 691.2,1206 691.2,1212" fill="#a8a8a8" stroke-width="1.5"/>
<polygon points="727.5,1206 727.5,1212 735.5,1206 735.5,1212" fill="#a8a8a8" stroke-width="1.5"/>
<polygon points="736,1206 736,1212 744,1206 744,1212" fill="#a8a8a8" stroke-width="1.5"/>
<polygon points="744.5,1206 744.5,1212 752.5,1206 752.5,1212" fill="#a8a8a8" stroke-width="1.5"/>
<polygon points="802.5,1206 802.5,1212 810.5,1206 810.5,1212" fill="#a8a8a8" stroke-width="1.5"/>
<polygon points="811,1206 811,1212 819,1206 819,1212" fill="#a8a8a8" stroke-width="1.5"/>
<polygon points="819.5,1206 819.5,1212 827.5,1206 827.5,1212" fill="#a8a8a8" stroke-width="1.5"/>
<polygon points="699,1076.5 693,1076.5 699,1084.5 693,1084.5" fill="#a8a8a8" stroke-width="1.5"/>
<polygon points="699,1085.5 693,1085.5 699,1093.5 693,1093.5" fill="#a8a8a8" stroke-width="1.5"/>
<polygon points="719,1076.5 713,1076.5 719,1084.5 713,1084.5" fill="#a8a8a8" stroke-width="1.5"/>
<polygon points="719,1085.5 713,1085.5 719,1093.5 713,1093.5" fill="#a8a8a8" stroke-width="1.5"/>
<polygon points="800.5,1081.5 794.5,1081.5 800.5,1089.5 794.5,1089.5" fill="#a8a8a8" stroke-width="1.5"/>
<polygon points="800.5,1090.5 794.5,1090.5 800.5,1098.5 794.5,1098.5" fill="#a8a8a8" stroke-width="1.5"/>
<polygon points="727,1154 721,1154 727,1162 721,1162" fill="#a8a8a8" stroke-width="1.5"/>
<polygon points="798,1224 792,1224 798,1232 792,1232" fill="#a8a8a8" stroke-width="1.5"/>
<polygon points="798,1232 792,1232 798,1240 792,1240" fill="#a8a8a8" stroke-width="1.5"/>
<polygon points="696,1058.8 700.5,1074.4 691.5,1074.4" fill="#141414" stroke-width="0.6"/>
<polygon points="716,1058.8 720.5,1074.4 711.5,1074.4" fill="#141414" stroke-width="0.6"/>
<polygon points="696,1158.8 700.5,1174.4 691.5,1174.4" fill="#141414" stroke-width="0.6"/>
<polygon points="840,1001.3 835.5,984.5 844.5,984.5" fill="#141414" stroke-width="0.6"/>
<polygon points="879,998.7 883.5,1015.5 874.5,1015.5" fill="#141414" stroke-width="0.6"/>
<polygon points="925,998.7 929.5,1015.5 920.5,1015.5" fill="#141414" stroke-width="0.6"/>
<polygon points="882,1033.5 876,1033.5 882,1041.5 876,1041.5" fill="#a8a8a8" stroke-width="1.5"/>
<polygon points="882,1042.5 876,1042.5 882,1050.5 876,1050.5" fill="#a8a8a8" stroke-width="1.5"/>
<polygon points="928,1033.5 922,1033.5 928,1041.5 922,1041.5" fill="#a8a8a8" stroke-width="1.5"/>
<polygon points="928,1042.5 922,1042.5 928,1050.5 922,1050.5" fill="#a8a8a8" stroke-width="1.5"/>
<polygon points="667.5,1233.2 663,1217.6 672,1217.6" fill="#141414" stroke-width="0.6"/>
<polygon points="831.3,1252.5 814.5,1257 814.5,1248" fill="#141414" stroke-width="0.6"/>
<text x="0" y="0" transform="translate(766 1078) rotate(-70)" font-size="20.5" font-style="italic" font-weight="bold" text-anchor="middle">7</text>
<polyline points="762,1086 771,1099" stroke-width="1.8"/>
<text x="0" y="0" transform="translate(772 1183) rotate(-70)" font-size="20.5" font-style="italic" font-weight="bold" text-anchor="middle">7</text>
<polyline points="769,1188 774,1198" stroke-width="1.8"/>
<polyline points="900,1059 900,1095" stroke-width="2.7"/>
<rect x="877.5" y="1095" width="46.5" height="82.5" stroke-width="2.7" fill="none"/>
<circle cx="877.5" cy="1139" r="9" stroke-width="2.5" fill="#fdfdfd"/>
<circle cx="924" cy="1139" r="9" stroke-width="2.5" fill="#fdfdfd"/>
<polyline points="873.5,1142 876.5,1136 881.5,1138" stroke-width="1.8"/>
<polyline points="920,1142 923,1136 928,1138" stroke-width="1.8"/>
<polygon points="880.5,1107.5 874.5,1107.5 880.5,1115.5 874.5,1115.5" fill="#a8a8a8" stroke-width="1.5"/>
<polygon points="880.5,1116.5 874.5,1116.5 880.5,1124.5 874.5,1124.5" fill="#a8a8a8" stroke-width="1.5"/>
<polygon points="927,1107.5 921,1107.5 927,1115.5 921,1115.5" fill="#a8a8a8" stroke-width="1.5"/>
<polygon points="927,1116.5 921,1116.5 927,1124.5 921,1124.5" fill="#a8a8a8" stroke-width="1.5"/>
<polygon points="880.5,1153.5 874.5,1153.5 880.5,1161.5 874.5,1161.5" fill="#a8a8a8" stroke-width="1.5"/>
<polygon points="880.5,1162.5 874.5,1162.5 880.5,1170.5 874.5,1170.5" fill="#a8a8a8" stroke-width="1.5"/>
<polygon points="927,1153.5 921,1153.5 927,1161.5 921,1161.5" fill="#a8a8a8" stroke-width="1.5"/>
<polygon points="927,1162.5 921,1162.5 927,1170.5 921,1170.5" fill="#a8a8a8" stroke-width="1.5"/>
<text x="0" y="0" transform="translate(904 1112) rotate(-110)" font-size="19.2" font-style="italic" font-weight="bold" text-anchor="middle">9</text>
<polyline points="886,1133 899,1122 913,1134" stroke-width="1.8"/>
<polygon points="899,1194.7 903.5,1211.5 894.5,1211.5" fill="#141414" stroke-width="0.6"/>
<text x="0" y="0" transform="translate(872 1225) rotate(-70)" font-size="19.2" font-style="italic" font-weight="normal" text-anchor="middle">8</text>
<polyline points="880,1222 897,1240" stroke-width="1.8"/>
<polyline points="934,1166 934,1180" stroke-width="1.8"/>
<polyline points="20,1354 20,1127.5 239,1127.5" stroke-width="2"/>
<polyline points="26,1286 26,1137 239,1137" stroke-width="2"/>
<polyline points="34,1224 34,1146 239,1146" stroke-width="2"/>
<rect x="34" y="1154" width="92" height="70" stroke-width="1.7" fill="none"/>
<rect x="26" y="1229" width="100" height="57" stroke-width="1.7" fill="none"/>
<rect x="20" y="1292.5" width="106" height="61.5" stroke-width="1.7" fill="none"/>
<rect x="41" y="1180" width="68" height="22.5" stroke-width="1.7" fill="none"/>
<text x="0" y="0" transform="translate(80 1191.2) rotate(-100)" font-size="14.7" font-style="italic" font-weight="normal" text-anchor="middle">15</text>
<rect x="41" y="1246" width="68" height="21.5" stroke-width="1.7" fill="none"/>
<text x="0" y="0" transform="translate(80 1256.8) rotate(-100)" font-size="14.7" font-style="italic" font-weight="normal" text-anchor="middle">15</text>
<rect x="41" y="1310" width="68" height="22.5" stroke-width="1.7" fill="none"/>
<text x="0" y="0" transform="translate(80 1321.2) rotate(-100)" font-size="14.7" font-style="italic" font-weight="normal" text-anchor="middle">15</text>
<polyline points="54,1154 54,1180" stroke-width="1.2"/>
<polyline points="54,1202.5 54,1224" stroke-width="1.2"/>
<polygon points="56.6,1160.5 51.4,1160.5 56.6,1166.5 51.4,1166.5" fill="#a8a8a8" stroke-width="1.5"/>
<polygon points="56.6,1167.5 51.4,1167.5 56.6,1173.5 51.4,1173.5" fill="#a8a8a8" stroke-width="1.5"/>
<polygon points="56.6,1206.8 51.4,1206.8 56.6,1212.8 51.4,1212.8" fill="#a8a8a8" stroke-width="1.5"/>
<polygon points="56.6,1213.8 51.4,1213.8 56.6,1219.8 51.4,1219.8" fill="#a8a8a8" stroke-width="1.5"/>
<polyline points="64,1154 64,1180" stroke-width="1.2"/>
<polyline points="64,1202.5 64,1224" stroke-width="1.2"/>
<polygon points="66.6,1160.5 61.4,1160.5 66.6,1166.5 61.4,1166.5" fill="#a8a8a8" stroke-width="1.5"/>
<polygon points="66.6,1167.5 61.4,1167.5 66.6,1173.5 61.4,1173.5" fill="#a8a8a8" stroke-width="1.5"/>
<polygon points="66.6,1206.8 61.4,1206.8 66.6,1212.8 61.4,1212.8" fill="#a8a8a8" stroke-width="1.5"/>
<polygon points="66.6,1213.8 61.4,1213.8 66.6,1219.8 61.4,1219.8" fill="#a8a8a8" stroke-width="1.5"/>
<polyline points="75,1154 75,1180" stroke-width="1.2"/>
<polyline points="75,1202.5 75,1224" stroke-width="1.2"/>
<polygon points="77.6,1160.5 72.4,1160.5 77.6,1166.5 72.4,1166.5" fill="#a8a8a8" stroke-width="1.5"/>
<polygon points="77.6,1167.5 72.4,1167.5 77.6,1173.5 72.4,1173.5" fill="#a8a8a8" stroke-width="1.5"/>
<polygon points="77.6,1206.8 72.4,1206.8 77.6,1212.8 72.4,1212.8" fill="#a8a8a8" stroke-width="1.5"/>
<polygon points="77.6,1213.8 72.4,1213.8 77.6,1219.8 72.4,1219.8" fill="#a8a8a8" stroke-width="1.5"/>
<polyline points="85,1154 85,1180" stroke-width="1.2"/>
<polyline points="85,1202.5 85,1224" stroke-width="1.2"/>
<polygon points="87.6,1160.5 82.4,1160.5 87.6,1166.5 82.4,1166.5" fill="#a8a8a8" stroke-width="1.5"/>
<polygon points="87.6,1167.5 82.4,1167.5 87.6,1173.5 82.4,1173.5" fill="#a8a8a8" stroke-width="1.5"/>
<polygon points="87.6,1206.8 82.4,1206.8 87.6,1212.8 82.4,1212.8" fill="#a8a8a8" stroke-width="1.5"/>
<polygon points="87.6,1213.8 82.4,1213.8 87.6,1219.8 82.4,1219.8" fill="#a8a8a8" stroke-width="1.5"/>
<polyline points="54,1229 54,1246" stroke-width="1.2"/>
<polyline points="54,1267.5 54,1286" stroke-width="1.2"/>
<polygon points="56.6,1231 51.4,1231 56.6,1237 51.4,1237" fill="#a8a8a8" stroke-width="1.5"/>
<polygon points="56.6,1238 51.4,1238 56.6,1244 51.4,1244" fill="#a8a8a8" stroke-width="1.5"/>
<polygon points="56.6,1270.2 51.4,1270.2 56.6,1276.2 51.4,1276.2" fill="#a8a8a8" stroke-width="1.5"/>
<polygon points="56.6,1277.2 51.4,1277.2 56.6,1283.2 51.4,1283.2" fill="#a8a8a8" stroke-width="1.5"/>
<polyline points="64,1229 64,1246" stroke-width="1.2"/>
<polyline points="64,1267.5 64,1286" stroke-width="1.2"/>
<polygon points="66.6,1231 61.4,1231 66.6,1237 61.4,1237" fill="#a8a8a8" stroke-width="1.5"/>
<polygon points="66.6,1238 61.4,1238 66.6,1244 61.4,1244" fill="#a8a8a8" stroke-width="1.5"/>
<polygon points="66.6,1270.2 61.4,1270.2 66.6,1276.2 61.4,1276.2" fill="#a8a8a8" stroke-width="1.5"/>
<polygon points="66.6,1277.2 61.4,1277.2 66.6,1283.2 61.4,1283.2" fill="#a8a8a8" stroke-width="1.5"/>
<polyline points="75,1229 75,1246" stroke-width="1.2"/>
<polyline points="75,1267.5 75,1286" stroke-width="1.2"/>
<polygon points="77.6,1231 72.4,1231 77.6,1237 72.4,1237" fill="#a8a8a8" stroke-width="1.5"/>
<polygon points="77.6,1238 72.4,1238 77.6,1244 72.4,1244" fill="#a8a8a8" stroke-width="1.5"/>
<polygon points="77.6,1270.2 72.4,1270.2 77.6,1276.2 72.4,1276.2" fill="#a8a8a8" stroke-width="1.5"/>
<polygon points="77.6,1277.2 72.4,1277.2 77.6,1283.2 72.4,1283.2" fill="#a8a8a8" stroke-width="1.5"/>
<polyline points="85,1229 85,1246" stroke-width="1.2"/>
<polyline points="85,1267.5 85,1286" stroke-width="1.2"/>
<polygon points="87.6,1231 82.4,1231 87.6,1237 82.4,1237" fill="#a8a8a8" stroke-width="1.5"/>
<polygon points="87.6,1238 82.4,1238 87.6,1244 82.4,1244" fill="#a8a8a8" stroke-width="1.5"/>
<polygon points="87.6,1270.2 82.4,1270.2 87.6,1276.2 82.4,1276.2" fill="#a8a8a8" stroke-width="1.5"/>
<polygon points="87.6,1277.2 82.4,1277.2 87.6,1283.2 82.4,1283.2" fill="#a8a8a8" stroke-width="1.5"/>
<polyline points="54,1292.5 54,1310" stroke-width="1.2"/>
<polyline points="54,1332.5 54,1354" stroke-width="1.2"/>
<polygon points="56.6,1294.8 51.4,1294.8 56.6,1300.8 51.4,1300.8" fill="#a8a8a8" stroke-width="1.5"/>
<polygon points="56.6,1301.8 51.4,1301.8 56.6,1307.8 51.4,1307.8" fill="#a8a8a8" stroke-width="1.5"/>
<polygon points="56.6,1336.8 51.4,1336.8 56.6,1342.8 51.4,1342.8" fill="#a8a8a8" stroke-width="1.5"/>
<polygon points="56.6,1343.8 51.4,1343.8 56.6,1349.8 51.4,1349.8" fill="#a8a8a8" stroke-width="1.5"/>
<polyline points="64,1292.5 64,1310" stroke-width="1.2"/>
<polyline points="64,1332.5 64,1354" stroke-width="1.2"/>
<polygon points="66.6,1294.8 61.4,1294.8 66.6,1300.8 61.4,1300.8" fill="#a8a8a8" stroke-width="1.5"/>
<polygon points="66.6,1301.8 61.4,1301.8 66.6,1307.8 61.4,1307.8" fill="#a8a8a8" stroke-width="1.5"/>
<polygon points="66.6,1336.8 61.4,1336.8 66.6,1342.8 61.4,1342.8" fill="#a8a8a8" stroke-width="1.5"/>
<polygon points="66.6,1343.8 61.4,1343.8 66.6,1349.8 61.4,1349.8" fill="#a8a8a8" stroke-width="1.5"/>
<polyline points="75,1292.5 75,1310" stroke-width="1.2"/>
<polyline points="75,1332.5 75,1354" stroke-width="1.2"/>
<polygon points="77.6,1294.8 72.4,1294.8 77.6,1300.8 72.4,1300.8" fill="#a8a8a8" stroke-width="1.5"/>
<polygon points="77.6,1301.8 72.4,1301.8 77.6,1307.8 72.4,1307.8" fill="#a8a8a8" stroke-width="1.5"/>
<polygon points="77.6,1336.8 72.4,1336.8 77.6,1342.8 72.4,1342.8" fill="#a8a8a8" stroke-width="1.5"/>
<polygon points="77.6,1343.8 72.4,1343.8 77.6,1349.8 72.4,1349.8" fill="#a8a8a8" stroke-width="1.5"/>
<polyline points="85,1292.5 85,1310" stroke-width="1.2"/>
<polyline points="85,1332.5 85,1354" stroke-width="1.2"/>
<polygon points="87.6,1294.8 82.4,1294.8 87.6,1300.8 82.4,1300.8" fill="#a8a8a8" stroke-width="1.5"/>
<polygon points="87.6,1301.8 82.4,1301.8 87.6,1307.8 82.4,1307.8" fill="#a8a8a8" stroke-width="1.5"/>
<polygon points="87.6,1336.8 82.4,1336.8 87.6,1342.8 82.4,1342.8" fill="#a8a8a8" stroke-width="1.5"/>
<polygon points="87.6,1343.8 82.4,1343.8 87.6,1349.8 82.4,1349.8" fill="#a8a8a8" stroke-width="1.5"/>
<polygon points="28,1287 37,1283 32,1278" fill="#141414" stroke-width="0.6"/>
<polyline points="37,1278 29,1286" stroke-width="2.1"/>
<polyline points="126,1177.5 218,1177.5" stroke-width="2"/>
<polygon points="173.8,1174.5 173.8,1180.5 181.8,1174.5 181.8,1180.5" fill="#a8a8a8" stroke-width="1.5"/>
<polygon points="182.2,1174.5 182.2,1180.5 190.2,1174.5 190.2,1180.5" fill="#a8a8a8" stroke-width="1.5"/>
<polyline points="126,1210 199,1210" stroke-width="2"/>
<polygon points="173.8,1207 173.8,1213 181.8,1207 181.8,1213" fill="#a8a8a8" stroke-width="1.5"/>
<polygon points="182.2,1207 182.2,1213 190.2,1207 190.2,1213" fill="#a8a8a8" stroke-width="1.5"/>
<polyline points="126,1244 218,1244" stroke-width="2"/>
<polygon points="173.8,1241 173.8,1247 181.8,1241 181.8,1247" fill="#a8a8a8" stroke-width="1.5"/>
<polygon points="182.2,1241 182.2,1247 190.2,1241 190.2,1247" fill="#a8a8a8" stroke-width="1.5"/>
<polyline points="126,1277.5 199,1277.5" stroke-width="2"/>
<polygon points="173.8,1274.5 173.8,1280.5 181.8,1274.5 181.8,1280.5" fill="#a8a8a8" stroke-width="1.5"/>
<polygon points="182.2,1274.5 182.2,1280.5 190.2,1274.5 190.2,1280.5" fill="#a8a8a8" stroke-width="1.5"/>
<polyline points="126,1306 218,1306" stroke-width="2"/>
<polygon points="173.8,1303 173.8,1309 181.8,1303 181.8,1309" fill="#a8a8a8" stroke-width="1.5"/>
<polygon points="182.2,1303 182.2,1309 190.2,1303 190.2,1309" fill="#a8a8a8" stroke-width="1.5"/>
<polyline points="126,1336 199,1336" stroke-width="2"/>
<polygon points="173.8,1333 173.8,1339 181.8,1333 181.8,1339" fill="#a8a8a8" stroke-width="1.5"/>
<polygon points="182.2,1333 182.2,1339 190.2,1333 190.2,1339" fill="#a8a8a8" stroke-width="1.5"/>
<polygon points="173.8,1124.5 173.8,1130.5 181.8,1124.5 181.8,1130.5" fill="#a8a8a8" stroke-width="1.5"/>
<polygon points="182.2,1124.5 182.2,1130.5 190.2,1124.5 190.2,1130.5" fill="#a8a8a8" stroke-width="1.5"/>
<polygon points="149,1127.5 161,1123.3 161,1131.7" fill="#141414" stroke-width="0.6"/>
<polygon points="173.8,1134 173.8,1140 181.8,1134 181.8,1140" fill="#a8a8a8" stroke-width="1.5"/>
<polygon points="182.2,1134 182.2,1140 190.2,1134 190.2,1140" fill="#a8a8a8" stroke-width="1.5"/>
<polygon points="149,1137 161,1132.8 161,1141.2" fill="#141414" stroke-width="0.6"/>
<polygon points="173.8,1143 173.8,1149 181.8,1143 181.8,1149" fill="#a8a8a8" stroke-width="1.5"/>
<polygon points="182.2,1143 182.2,1149 190.2,1143 190.2,1149" fill="#a8a8a8" stroke-width="1.5"/>
<polygon points="149,1146 161,1141.8 161,1150.2" fill="#141414" stroke-width="0.6"/>
<polyline points="199,1470 239,1470" stroke-width="2"/>
<circle cx="239" cy="1425" r="9" stroke-width="2" fill="#fdfdfd"/>
<polyline points="235,1421 239,1430 243,1421" stroke-width="1.4"/>
<rect x="185" y="1420" width="12" height="14" stroke-width="1.8" fill="none"/>
<polygon points="202.5,1363.5 196.5,1363.5 202.5,1371.5 196.5,1371.5" fill="#a8a8a8" stroke-width="1.5"/>
<polygon points="202.5,1372.5 196.5,1372.5 202.5,1380.5 196.5,1380.5" fill="#a8a8a8" stroke-width="1.5"/>
<polygon points="202.5,1396 196.5,1396 202.5,1404 196.5,1404" fill="#a8a8a8" stroke-width="1.5"/>
<polygon points="202.5,1408 196.5,1408 202.5,1416 196.5,1416" fill="#a8a8a8" stroke-width="1.5"/>
<polygon points="202.5,1440 196.5,1440 202.5,1448 196.5,1448" fill="#a8a8a8" stroke-width="1.5"/>
<polygon points="202.5,1448 196.5,1448 202.5,1456 196.5,1456" fill="#a8a8a8" stroke-width="1.5"/>
<polygon points="202.5,1456 196.5,1456 202.5,1464 196.5,1464" fill="#a8a8a8" stroke-width="1.5"/>
<polygon points="223.5,1363.5 217.5,1363.5 223.5,1371.5 217.5,1371.5" fill="#a8a8a8" stroke-width="1.5"/>
<polygon points="223.5,1372.5 217.5,1372.5 223.5,1380.5 217.5,1380.5" fill="#a8a8a8" stroke-width="1.5"/>
<polygon points="223.5,1396.5 217.5,1396.5 223.5,1404.5 217.5,1404.5" fill="#a8a8a8" stroke-width="1.5"/>
<polygon points="223.5,1405.5 217.5,1405.5 223.5,1413.5 217.5,1413.5" fill="#a8a8a8" stroke-width="1.5"/>
<polygon points="201.5,1385 201.5,1391 209.5,1385 209.5,1391" fill="#a8a8a8" stroke-width="1.5"/>
<polygon points="208.5,1385 208.5,1391 216.5,1385 216.5,1391" fill="#a8a8a8" stroke-width="1.5"/>
<polyline points="199,1388 221,1388" stroke-width="1.8"/>
<polygon points="242,1453 236,1453 242,1461 236,1461" fill="#a8a8a8" stroke-width="1.5"/>
<polygon points="242,1461 236,1461 242,1469 236,1469" fill="#a8a8a8" stroke-width="1.5"/>
<polygon points="242,1469 236,1469 242,1477 236,1477" fill="#a8a8a8" stroke-width="1.5"/>
<text x="0" y="0" transform="translate(273 1324) rotate(-90)" font-size="17.5" font-style="italic" font-weight="normal" text-anchor="middle" letter-spacing="0.3">Насыщенный пар</text>
<polyline points="207.5,1312.5 255,1340" stroke-width="1.8"/>
<polyline points="230,1322 255,1340" stroke-width="1.8"/>
<ellipse cx="571" cy="149.9" rx="156" ry="150.5" stroke-width="2.7" fill="none"/>
<polyline points="495.7,24.4 502.7,20.8 509.8,17.5 517.1,14.6 524.5,12 532,9.9 539.7,8.1 547.4,6.7 555.3,5.7 563.1,5.1 571,4.9 578.9,5.1 586.7,5.7 594.5,6.7 602.3,8.1 609.9,9.9 617.5,12 624.9,14.6 632.2,17.5 639.3,20.8 646.2,24.4 653,28.3 659.5,32.6 665.7,37.3 671.7,42.2 677.4,47.4 682.8,52.9 688,58.7 692.7,64.7 697.2,71 701.3,77.4 705.1,84.1 708.5,91 711.5,98 714.1,105.1 716.4,112.4 718.2,119.8 719.6,127.3 720.7,134.8 721.3,142.4 721.5,149.9 721.3,157.5 720.7,165.1 719.6,172.6 718.2,180.1 728.7,177.8 737.3,182.9" stroke-width="2.3"/>
<polyline points="683.7,65.3 688.3,71.4 692.6,77.7 696.6,84.2 700.1,90.9 703.3,97.8 706.1,104.9 708.5,112 710.4,119.4 711.9,126.7 713.1,134.2 713.7,141.7 714,149.3 713.8,156.8 713.2,164.3 721.2,182.7 732.7,190.7" stroke-width="2.3"/>
<polyline points="422.8,134.9 422.2,142.5 422,150.1 422.2,157.6 422.8,165.2 423.9,172.7 425.3,180.1 427.2,187.5 429.4,194.8 432.1,201.9 435.1,208.9 438.5,215.7 442.3,222.3 446.5,228.8 451,235 455.8,241 460.9,246.7 466.4,252.1 472.1,257.3 478.2,262.2 484.4,266.8 491,271 497.7,274.9 504.6,278.4 511.8,281.6 519.1,284.5 526.5,286.9 534.1,289 541.8,290.7 549.5,291.9 557.3,292.8 565.2,293.3 573,293.4 580.9,293.1 588.7,292.4 596.5,291.3 604.2,289.8 611.8,288 619.3,285.7 626.7,283 633.9,280 640.9,276.6 662.8,262.1 673.4,263.7 685.5,270.8" stroke-width="2.3"/>
<polyline points="526.8,280.7 534,282.8 541.3,284.4 548.6,285.8 556,286.7 563.5,287.3 571,287.4 578.5,287.3 585.9,286.7 593.4,285.8 600.7,284.4 608,282.8 615.2,280.7 622.2,278.3 629.2,275.6 663.4,253.1 673.2,254.3 689.8,263.5" stroke-width="2.3"/>
<circle cx="492.7" cy="27.4" r="2.6" stroke-width="2.3" fill="#fdfdfd"/>
<circle cx="679.7" cy="66.3" r="2.6" stroke-width="2.3" fill="#fdfdfd"/>
<circle cx="425.8" cy="131.9" r="2.6" stroke-width="2.3" fill="#fdfdfd"/>
<circle cx="523.8" cy="278.7" r="2.6" stroke-width="2.3" fill="#fdfdfd"/>
<polyline points="728.7,177.8 632.9,123.7 487.8,42.9 565.2,110.5 476.3,76.2 559.7,112" stroke-width="2.5"/>
<polyline points="725.4,183.4 512.6,59.9 487.8,42.9" stroke-width="2.3"/>
<polyline points="476.3,76.2 554.7,106.7" stroke-width="2.1"/>
<polyline points="710.9,208 564.4,121.7 557.2,116.3 612.4,134.9 569.9,98.7 600.2,130" stroke-width="2.5"/>
<polyline points="707.8,213.2 559.9,125.4 557.2,116.3" stroke-width="2.3"/>
<polyline points="569.9,98.7 608.2,130.1" stroke-width="2.1"/>
<polyline points="508,119.8 493.8,143.9 683,255.4" stroke-width="2.5"/>
<polyline points="504.2,117.6 511.9,122.1" stroke-width="2.3"/>
<polyline points="570,155.2 559.9,172.4 687.5,247.6" stroke-width="2.5"/>
<polyline points="566.3,153 573.6,157.3" stroke-width="2.3"/>
<polyline points="633.4,193.7 629.6,200.2 693.4,237.7" stroke-width="2.5"/>
<polyline points="630,191.7 636.9,195.7" stroke-width="2.3"/>
<text x="0" y="0" transform="translate(591.4 152.7) rotate(210.5)" font-size="18" font-style="italic" font-weight="normal" text-anchor="middle" letter-spacing="1.6">На пожаротушение</text>
<polygon points="487.8,42.9 504.8,57.8 519.7,60.7" fill="#141414" stroke-width="0.6"/>
<polygon points="476.3,76.2 516.3,91.7 513.8,92.3" fill="#141414" stroke-width="0.6"/>
<polygon points="569.9,98.7 591.1,116.8 589,114.4" fill="#141414" stroke-width="0.6"/>
<polygon points="557.2,116.3 568.2,120 572.4,125.5" fill="#141414" stroke-width="0.6"/>
<polygon points="676.1,189.8 690.5,193.8 686.6,200.5" fill="#141414" stroke-width="0.6"/>
<polygon points="688.4,205.2 674,201.2 677.9,194.5" fill="#141414" stroke-width="0.6"/>
<polyline points="470.6,261.3 462.8,254.2 455.5,246.7" stroke-width="4.6"/>
<text x="0" y="0" transform="translate(450 276) rotate(-75)" font-size="19.2" font-style="italic" font-weight="normal" text-anchor="middle">13</text>
<polyline points="454,260 468,248" stroke-width="2"/>
<ellipse cx="326" cy="572.9" rx="156" ry="153.5" stroke-width="2.7" fill="none"/>
<polyline points="269.6,435.7 277.1,433 284.6,430.6 292.3,428.7 300.1,427.1 308,426 315.9,425.3 323.8,425 331.8,425 339.7,425.6 347.6,426.5 355.4,427.8 363.2,429.5 370.8,431.6 378.3,434.2 385.7,437.1 392.9,440.4 399.9,444 406.7,448 413.3,452.4 419.7,457.1 425.8,462.1 431.6,467.4 437.1,473.1 442.3,479 447.2,485.1 451.7,491.5 455.9,498.2 459.7,505 463.2,512.1 466.3,519.3 468.9,526.6 471.2,534.1 473.1,541.7 474.6,549.4 475.6,557.1 476.3,564.9 476.5,572.7 476.3,580.5 475.7,588.3 474.7,596 473.2,603.7 483.7,600.8 492.3,605.9" stroke-width="2.3"/>
<polyline points="438.7,486.4 443.4,492.6 447.7,499.1 451.6,505.7 455.2,512.6 458.3,519.7 461.1,526.9 463.5,534.2 465.4,541.7 467,549.2 468.1,556.9 468.8,564.5 469,572.2 468.8,579.9 468.2,587.6 476.2,605.7 487.7,613.6" stroke-width="2.3"/>
<polyline points="177,572.9 177.2,580.8 177.9,588.6 178.9,596.4 180.4,604.1 182.3,611.7 184.6,619.2 187.4,626.6 190.5,633.8 194,640.8 197.9,647.7 202.1,654.3 206.7,660.7 211.7,666.9 216.9,672.7 222.5,678.3 228.4,683.6 234.6,688.6 241,693.3 247.7,697.6 254.6,701.5 261.7,705.1 269,708.3 276.4,711.1 284,713.5 291.7,715.5 299.5,717.1 307.4,718.3 315.3,719.1 323.3,719.4 331.3,719.3 339.2,718.9 347.2,718 355,716.6 362.8,714.9 370.5,712.8 378,710.2 385.4,707.3 409.3,691.6 419.9,693.3 435.4,702.4" stroke-width="2.3"/>
<polyline points="281.8,706.6 289.3,708.7 296.9,710.5 304.6,711.8 312.3,712.8 320.1,713.3 327.9,713.4 335.7,713.1 343.4,712.4 351.1,711.3 358.8,709.7 366.3,707.7 373.7,705.4 409.9,682.7 419.7,683.8 439.8,695.1" stroke-width="2.3"/>
<circle cx="266.6" cy="438.7" r="2.6" stroke-width="2.3" fill="#fdfdfd"/>
<circle cx="434.7" cy="487.4" r="2.6" stroke-width="2.3" fill="#fdfdfd"/>
<circle cx="180" cy="569.9" r="2.6" stroke-width="2.3" fill="#fdfdfd"/>
<circle cx="278.8" cy="704.6" r="2.6" stroke-width="2.3" fill="#fdfdfd"/>
<polyline points="483.7,600.8 387.9,546.7 242.8,465.9 320.2,533.5 231.3,499.2 314.7,535" stroke-width="2.5"/>
<polyline points="480.4,606.4 267.7,482.9 242.8,465.9" stroke-width="2.3"/>
<polyline points="231.3,499.2 309.7,529.7" stroke-width="2.1"/>
<polyline points="465.9,631 319.4,544.7 312.2,539.3 367.4,557.9 324.9,521.7 355.2,553" stroke-width="2.5"/>
<polyline points="462.9,636.1 314.9,548.4 312.2,539.3" stroke-width="2.3"/>
<polyline points="324.9,521.7 363.2,553.1" stroke-width="2.1"/>
<polyline points="263,542.8 248.8,566.9 438,678.4" stroke-width="2.5"/>
<polyline points="259.2,540.6 267,545.1" stroke-width="2.3"/>
<polyline points="325,578.2 314.9,595.4 442.6,670.6" stroke-width="2.5"/>
<polyline points="321.3,576 328.6,580.3" stroke-width="2.3"/>
<polyline points="388.4,616.7 384.6,623.1 448.4,660.7" stroke-width="2.5"/>
<polyline points="385,614.7 391.9,618.7" stroke-width="2.3"/>
<text x="0" y="0" transform="translate(355.9 581.3) rotate(210.5)" font-size="18" font-style="italic" font-weight="normal" text-anchor="middle" letter-spacing="1.6">На пожаротушение</text>
<polygon points="242.8,465.9 259.8,480.8 274.7,483.7" fill="#141414" stroke-width="0.6"/>
<polygon points="231.3,499.2 271.3,514.6 268.9,515.3" fill="#141414" stroke-width="0.6"/>
<polygon points="324.9,521.7 346.1,539.8 344.1,537.4" fill="#141414" stroke-width="0.6"/>
<polygon points="312.2,539.3 323.2,543 327.4,548.5" fill="#141414" stroke-width="0.6"/>
<polygon points="431.2,612.8 445.5,616.8 441.6,623.4" fill="#141414" stroke-width="0.6"/>
<polygon points="443.4,628.1 429,624.1 432.9,617.5" fill="#141414" stroke-width="0.6"/>
<polyline points="194.4,641.7 189.9,632.5 186,623" stroke-width="4.6"/>
<text x="0" y="0" transform="translate(232 404) rotate(-75)" font-size="19.2" font-style="italic" font-weight="normal" text-anchor="middle">13</text>
<polyline points="232.5,415 257.5,446" stroke-width="2"/>
<polyline points="727.5,177.1 753.3,192.3 760.6,203.6 794.2,223.4" stroke-width="2.5" stroke-dasharray="15 4"/>
<polygon points="732.8,176.7 729.7,182 740.7,181.3 737.6,186.7" fill="#a8a8a8" stroke-width="1.5"/>
<polygon points="742.3,182.3 739.1,187.6 750.2,186.9 747.1,192.3" fill="#a8a8a8" stroke-width="1.5"/>
<polygon points="770.2,209.3 755.8,205.3 759.7,198.6" fill="#141414" stroke-width="0.6"/>
<polyline points="722.7,185.1 748.6,200.3 757.5,208.8 798.9,233.1" stroke-width="2.5" stroke-dasharray="15 4"/>
<polygon points="728.1,184.7 725,190 736,189.3 732.9,194.7" fill="#a8a8a8" stroke-width="1.5"/>
<polygon points="737.6,190.3 734.4,195.6 745.5,194.9 742.4,200.3" fill="#a8a8a8" stroke-width="1.5"/>
<polygon points="771.2,216.8 785.6,220.8 781.7,227.4" fill="#141414" stroke-width="0.6"/>
<polyline points="718,193.1 743.9,208.3 755,213.1 808.4,244.5" stroke-width="2.5"/>
<polygon points="723.4,192.7 720.3,198 731.3,197.3 728.2,202.7" fill="#a8a8a8" stroke-width="1.5"/>
<polygon points="732.9,198.2 729.7,203.6 740.8,202.9 737.7,208.3" fill="#a8a8a8" stroke-width="1.5"/>
<polygon points="764.6,218.7 750.3,214.7 754.2,208.1" fill="#141414" stroke-width="0.6"/>
<polygon points="790.5,234 776.1,230 780,223.3" fill="#141414" stroke-width="0.6"/>
<polyline points="713.3,201.1 739.2,216.3 752.5,217.4 855.9,278.3" stroke-width="2.5"/>
<polygon points="718.7,200.6 715.6,206 726.6,205.3 723.5,210.7" fill="#a8a8a8" stroke-width="1.5"/>
<polygon points="728.2,206.2 725,211.6 736.1,210.9 733,216.2" fill="#a8a8a8" stroke-width="1.5"/>
<polygon points="768.1,226.6 753.8,222.6 757.7,216" fill="#141414" stroke-width="0.6"/>
<polygon points="785.9,237.1 800.3,241.1 796.4,247.7" fill="#141414" stroke-width="0.6"/>
<polyline points="708.6,209.1 734.5,224.3 745.9,228.6 764.8,239.8" stroke-width="2.5"/>
<polygon points="714,208.6 710.8,214 721.9,213.3 718.8,218.6" fill="#a8a8a8" stroke-width="1.5"/>
<polygon points="723.5,214.2 720.3,219.6 731.4,218.9 728.2,224.2" fill="#a8a8a8" stroke-width="1.5"/>
<polygon points="753.5,233.1 767.9,237.1 764,243.7" fill="#141414" stroke-width="0.6"/>
<polyline points="703.9,217.1 729.8,232.3 739.3,239.8 823.4,289.3" stroke-width="2.5"/>
<polygon points="709.3,216.6 706.1,222 717.2,221.3 714.1,226.6" fill="#a8a8a8" stroke-width="1.5"/>
<polygon points="718.8,222.2 715.6,227.6 726.7,226.9 723.5,232.2" fill="#a8a8a8" stroke-width="1.5"/>
<polygon points="754.9,249 740.6,245 744.5,238.4" fill="#141414" stroke-width="0.6"/>
<polygon points="772.8,259.5 787.1,263.5 783.2,270.1" fill="#141414" stroke-width="0.6"/>
<polyline points="699.2,225.1 725.1,240.3 732.7,251 805,293.6" stroke-width="2.5"/>
<polygon points="704.6,224.6 701.4,230 712.5,229.3 709.4,234.6" fill="#a8a8a8" stroke-width="1.5"/>
<polygon points="714.1,230.2 710.9,235.5 722,234.9 718.8,240.2" fill="#a8a8a8" stroke-width="1.5"/>
<polygon points="742.3,256.7 727.9,252.7 731.8,246" fill="#141414" stroke-width="0.6"/>
<polygon points="768.1,271.9 753.8,267.9 757.7,261.3" fill="#141414" stroke-width="0.6"/>
<polyline points="694.5,233 720.4,248.3 728.1,258.7 747.1,269.9" stroke-width="2.5"/>
<polygon points="699.9,232.6 696.7,237.9 707.8,237.3 704.7,242.6" fill="#a8a8a8" stroke-width="1.5"/>
<polygon points="709.4,238.2 706.2,243.5 717.3,242.9 714.1,248.2" fill="#a8a8a8" stroke-width="1.5"/>
<polygon points="741.8,266.8 756.1,270.8 752.2,277.4" fill="#141414" stroke-width="0.6"/>
<polyline points="689.8,241 715.7,256.3 723.8,266.1 788.1,303.9" stroke-width="2.5"/>
<polygon points="695.2,240.6 692,245.9 703.1,245.3 699.9,250.6" fill="#a8a8a8" stroke-width="1.5"/>
<polygon points="704.6,246.2 701.5,251.5 712.6,250.8 709.4,256.2" fill="#a8a8a8" stroke-width="1.5"/>
<polygon points="733.4,271.7 719.1,267.7 722.9,261.1" fill="#141414" stroke-width="0.6"/>
<polygon points="759.3,287 744.9,283 748.8,276.3" fill="#141414" stroke-width="0.6"/>
<polyline points="685.1,249 710.9,264.2 721.5,269.9 725.8,272.5" stroke-width="2.5"/>
<polygon points="690.5,248.6 687.3,253.9 698.4,253.3 695.2,258.6" fill="#a8a8a8" stroke-width="1.5"/>
<polygon points="699.9,254.2 696.8,259.5 707.9,258.8 704.7,264.2" fill="#a8a8a8" stroke-width="1.5"/>
<polygon points="737.2,279.2 722.8,275.2 726.7,268.5" fill="#141414" stroke-width="0.6"/>
<polyline points="680.4,257 706.2,272.2 716.9,277.7 770.9,309.5" stroke-width="2.5"/>
<polygon points="685.8,256.6 682.6,261.9 693.7,261.2 690.5,266.6" fill="#a8a8a8" stroke-width="1.5"/>
<polygon points="695.2,262.2 692.1,267.5 703.2,266.8 700,272.2" fill="#a8a8a8" stroke-width="1.5"/>
<polygon points="724.6,282.2 738.9,286.2 735,292.8" fill="#141414" stroke-width="0.6"/>
<polygon points="752.4,298.6 738,294.6 741.9,288" fill="#141414" stroke-width="0.6"/>
<polyline points="675.7,265 701.5,280.2 713.9,282.9 732.9,294" stroke-width="2.5"/>
<polygon points="681,264.6 677.9,269.9 689,269.2 685.8,274.6" fill="#a8a8a8" stroke-width="1.5"/>
<polygon points="690.5,270.1 687.4,275.5 698.5,274.8 695.3,280.2" fill="#a8a8a8" stroke-width="1.5"/>
<polygon points="729.5,292.1 715.2,288.1 719.1,281.5" fill="#141414" stroke-width="0.6"/>
<polyline points="481.4,594.8 507.2,610.1 514.5,621.3 539.5,636" stroke-width="2.5" stroke-dasharray="15 4"/>
<polygon points="486.8,594.4 483.6,599.7 494.7,599.1 491.5,604.4" fill="#a8a8a8" stroke-width="1.5"/>
<polygon points="496.2,600 493.1,605.3 504.2,604.6 501,610" fill="#a8a8a8" stroke-width="1.5"/>
<polygon points="524.1,627 509.8,623 513.7,616.4" fill="#141414" stroke-width="0.6"/>
<polyline points="476.7,602.8 502.6,618 511.5,626.5 544.2,645.8" stroke-width="2.5" stroke-dasharray="15 4"/>
<polygon points="482.1,602.4 478.9,607.7 490,607 486.8,612.4" fill="#a8a8a8" stroke-width="1.5"/>
<polygon points="491.5,607.9 488.4,613.3 499.5,612.6 496.3,618" fill="#a8a8a8" stroke-width="1.5"/>
<polygon points="525.1,634.5 539.5,638.5 535.6,645.2" fill="#141414" stroke-width="0.6"/>
<polyline points="472,610.8 497.9,626 509,630.8 553.8,657.2" stroke-width="2.5"/>
<polygon points="477.4,610.3 474.2,615.7 485.3,615 482.2,620.3" fill="#a8a8a8" stroke-width="1.5"/>
<polygon points="486.9,615.9 483.7,621.3 494.8,620.6 491.6,625.9" fill="#a8a8a8" stroke-width="1.5"/>
<polygon points="518.6,636.5 504.2,632.5 508.1,625.8" fill="#141414" stroke-width="0.6"/>
<polygon points="544.4,651.7 530.1,647.7 534,641.1" fill="#141414" stroke-width="0.6"/>
<polyline points="467.3,618.7 493.2,634 506.4,635.1 601.2,690.9" stroke-width="2.5"/>
<polygon points="472.7,618.3 469.5,623.6 480.6,623 477.5,628.3" fill="#a8a8a8" stroke-width="1.5"/>
<polygon points="482.2,623.9 479,629.2 490.1,628.5 486.9,633.9" fill="#a8a8a8" stroke-width="1.5"/>
<polygon points="522.1,644.3 507.7,640.3 511.6,633.7" fill="#141414" stroke-width="0.6"/>
<polygon points="539.9,654.8 554.2,658.8 550.4,665.4" fill="#141414" stroke-width="0.6"/>
<polyline points="462.6,626.7 488.5,641.9 499.8,646.3 518.8,657.5" stroke-width="2.5"/>
<polygon points="468,626.3 464.8,631.6 475.9,630.9 472.8,636.3" fill="#a8a8a8" stroke-width="1.5"/>
<polygon points="477.5,631.8 474.3,637.2 485.4,636.5 482.2,641.9" fill="#a8a8a8" stroke-width="1.5"/>
<polygon points="507.4,650.8 521.8,654.8 517.9,661.4" fill="#141414" stroke-width="0.6"/>
<polyline points="457.9,634.7 483.8,649.9 493.2,657.5 568.7,702" stroke-width="2.5"/>
<polygon points="463.3,634.2 460.2,639.6 471.2,638.9 468.1,644.2" fill="#a8a8a8" stroke-width="1.5"/>
<polygon points="472.8,639.8 469.6,645.2 480.7,644.5 477.6,649.8" fill="#a8a8a8" stroke-width="1.5"/>
<polygon points="508.9,666.7 494.5,662.7 498.4,656.1" fill="#141414" stroke-width="0.6"/>
<polygon points="526.7,677.2 541.1,681.2 537.2,687.8" fill="#141414" stroke-width="0.6"/>
<polyline points="453.2,642.6 479.1,657.9 486.6,668.7 550.3,706.2" stroke-width="2.5"/>
<polygon points="458.6,642.2 455.5,647.5 466.5,646.9 463.4,652.2" fill="#a8a8a8" stroke-width="1.5"/>
<polygon points="468.1,647.8 464.9,653.1 476,652.4 472.9,657.8" fill="#a8a8a8" stroke-width="1.5"/>
<polygon points="496.2,674.4 481.9,670.4 485.8,663.8" fill="#141414" stroke-width="0.6"/>
<polygon points="522.1,689.6 507.7,685.6 511.6,679" fill="#141414" stroke-width="0.6"/>
<polyline points="448.5,650.6 474.4,665.8 482.1,676.5 501,687.6" stroke-width="2.5"/>
<polygon points="453.9,650.2 450.8,655.5 461.8,654.8 458.7,660.2" fill="#a8a8a8" stroke-width="1.5"/>
<polygon points="463.4,655.7 460.2,661.1 471.3,660.4 468.2,665.8" fill="#a8a8a8" stroke-width="1.5"/>
<polygon points="495.7,684.5 510.1,688.5 506.2,695.1" fill="#141414" stroke-width="0.6"/>
<polyline points="443.9,658.6 469.7,673.8 477.7,683.8 533.4,716.6" stroke-width="2.5"/>
<polygon points="449.2,658.1 446.1,663.5 457.1,662.8 454,668.1" fill="#a8a8a8" stroke-width="1.5"/>
<polygon points="458.7,663.7 455.6,669.1 466.6,668.4 463.5,673.7" fill="#a8a8a8" stroke-width="1.5"/>
<polygon points="487.4,689.4 473,685.4 476.9,678.8" fill="#141414" stroke-width="0.6"/>
<polygon points="513.2,704.7 498.8,700.7 502.7,694.1" fill="#141414" stroke-width="0.6"/>
<polyline points="439.2,666.5 465,681.8 475.5,687.7 471.2,685.1" stroke-width="2.5"/>
<polygon points="444.5,666.1 441.4,671.4 452.5,670.8 449.3,676.1" fill="#a8a8a8" stroke-width="1.5"/>
<polygon points="454,671.7 450.9,677 461.9,676.3 458.8,681.7" fill="#a8a8a8" stroke-width="1.5"/>
<polygon points="491.1,696.9 476.7,692.9 480.6,686.3" fill="#141414" stroke-width="0.6"/>
<polyline points="434.5,674.5 460.3,689.7 470.9,695.4 516.2,722.1" stroke-width="2.5"/>
<polygon points="439.8,674.1 436.7,679.4 447.8,678.7 444.6,684.1" fill="#a8a8a8" stroke-width="1.5"/>
<polygon points="449.3,679.6 446.2,685 457.2,684.3 454.1,689.7" fill="#a8a8a8" stroke-width="1.5"/>
<polygon points="478.5,699.9 492.9,703.9 489,710.5" fill="#141414" stroke-width="0.6"/>
<polygon points="506.3,716.3 492,712.3 495.9,705.7" fill="#141414" stroke-width="0.6"/>
<polyline points="429.8,682.5 455.6,697.7 467.8,700.6 486.8,711.8" stroke-width="2.5"/>
<polygon points="435.1,682 432,687.4 443.1,686.7 439.9,692" fill="#a8a8a8" stroke-width="1.5"/>
<polygon points="444.6,687.6 441.5,693 452.5,692.3 449.4,697.6" fill="#a8a8a8" stroke-width="1.5"/>
<polygon points="483.5,709.8 469.1,705.8 473,699.2" fill="#141414" stroke-width="0.6"/>
<polyline points="425.1,690.4 450.9,705.7 463.2,708.5 539.9,753.7" stroke-width="2.5"/>
<polygon points="430.4,690 427.3,695.3 438.4,694.7 435.2,700" fill="#a8a8a8" stroke-width="1.5"/>
<polygon points="439.9,695.6 436.8,700.9 447.9,700.2 444.7,705.6" fill="#a8a8a8" stroke-width="1.5"/>
<polygon points="472.8,714.2 458.4,710.2 462.3,703.6" fill="#141414" stroke-width="0.6"/>
<polygon points="498.6,729.4 484.3,725.4 488.2,718.8" fill="#141414" stroke-width="0.6"/>
<polyline points="420.4,698.4 446.2,713.6 458.6,716.3 525.8,755.9" stroke-width="2.5"/>
<polygon points="425.8,698 422.6,703.3 433.7,702.6 430.5,708" fill="#a8a8a8" stroke-width="1.5"/>
<polygon points="435.2,703.5 432.1,708.9 443.2,708.2 440,713.6" fill="#a8a8a8" stroke-width="1.5"/>
<polygon points="472.3,724.3 486.6,728.3 482.7,734.9" fill="#141414" stroke-width="0.6"/>
<polygon points="492.1,736 506.4,740 502.5,746.6" fill="#141414" stroke-width="0.6"/>
<polyline points="539.9,753.7 524.6,779.5" stroke-width="2.5"/>
<polyline points="525.8,755.9 510.6,781.7" stroke-width="2.5"/>
<polyline points="675.7,265 815.2,348.3" stroke-width="2.5"/>
<polyline points="429.6,682.7 560.1,760.7" stroke-width="2.5"/>
<polyline points="787.2,253 780.6,264.2" stroke-width="2.5"/>
<polyline points="760.9,278 756.5,285.4" stroke-width="2.5"/>
<polyline points="738,297.1 741.1,291.9" stroke-width="2.5"/>
<polyline points="797.1,279.6 808.3,286.2 801.7,297.4 790.5,290.8 797.1,279.6" stroke-width="2.3"/>
<polyline points="532.6,665.6 526,676.8" stroke-width="2.5"/>
<polyline points="506.2,690.7 501.9,698" stroke-width="2.5"/>
<polyline points="483.4,709.7 486.4,704.6" stroke-width="2.5"/>
<polyline points="542.4,692.3 553.6,698.9 547,710.1 535.8,703.5 542.4,692.3" stroke-width="2.3"/>
<polyline points="725.8,272.5 628.4,443.7 428,784" stroke-width="2.7" stroke-dasharray="36 3 2.5 3 2.5 3"/>
<polyline points="632.6,446.2 429.7,790.5" stroke-width="2.7"/>
<polyline points="471.2,685.1 485.9,705.4 431.9,797" stroke-width="2.7"/>
<polyline points="428,784 420,784" stroke-width="2.7"/>
<polyline points="429.7,790.5 421.7,790.5" stroke-width="2.7"/>
<polyline points="431.9,797 423.9,797" stroke-width="2.7"/>
<polyline points="794.2,223.4 712,356 651.7,457.5 480.1,748.7 627.5,835.5" stroke-width="2.8" stroke-dasharray="15 4"/>
<polyline points="798.9,233.1 718.5,359.8 657.7,461 490.2,745.3 630.7,828.1" stroke-width="2.8" stroke-dasharray="15 4"/>
<polyline points="539.5,636 499.5,740.4 636.1,820.8" stroke-width="2.8" stroke-dasharray="15 4"/>
<polyline points="658.4,470.7 552.4,650.6" stroke-width="2.8" stroke-dasharray="15 4"/>
<polyline points="511.4,738.1 647.9,818.5 642.6,823.5" stroke-width="2.7"/>
<polyline points="490,722 473.3,750.5 481.9,755.5" stroke-width="2.7"/>
<polyline points="808.4,244.5 730.1,366.7 670.2,468.4 557.6,659.5" stroke-width="2.7" stroke-dasharray="28 3 2.5 3"/>
<polyline points="770.9,309.5 741.3,373.3 681.8,475.2 527.1,739.2" stroke-width="2.7"/>
<polyline points="788.1,303.9 750.8,378.9 690,480 540.8,731" stroke-width="2.7"/>
<polyline points="805,293.6 760.7,384.7 702.1,487.1 562,727.3" stroke-width="2.7"/>
<polyline points="823.4,289.3 771.9,391.3 712,493" stroke-width="2.7"/>
<polyline points="855.9,278.3 786.8,400.1 726.9,501.8" stroke-width="2.7"/>
<polyline points="672.6,476.7 514.2,745.6" stroke-width="2.7"/>
<polyline points="693.4,489 541.1,747.5" stroke-width="2.7"/>
<polyline points="706.7,496.8 577.3,716.5" stroke-width="2.7"/>
<polyline points="714.1,501.2 598.4,697.6" stroke-width="2.7"/>
<polyline points="632.6,446.2 862.8,581.8" stroke-width="2.7"/>
<polyline points="706.7,496.8 851.1,581.9" stroke-width="2.7"/>
<path d="M553.2,796 L717.1,523.8 Q720.6,517.8 726.6,521.3 L835.2,585.3" stroke-width="2.8" fill="none" stroke-dasharray="28 3 2.5 3"/>
<path d="M568.4,800 L719.9,534.8 Q723.4,528.7 729.5,532.3 L831.1,592.2" stroke-width="2.8" fill="none" stroke-dasharray="15 4"/>
<path d="M582.8,790 L722.2,546.6 Q725.8,540.5 731.8,544.1 L826.6,599.9" stroke-width="2.8" fill="none" stroke-dasharray="15 4"/>
<path d="M586.3,795 L725.4,558.9 Q728.9,552.9 735,556.4 L822,607.7" stroke-width="2.8" fill="none" stroke-dasharray="26 3 2.5 3 2.5 3"/>
<polygon points="606.9,810.6 603.8,815.7 614.4,815 611.4,820.2" fill="#a8a8a8" stroke-width="1.5"/>
<polygon points="618.9,797.9 615.9,803.1 626.5,802.4 623.5,807.6" fill="#a8a8a8" stroke-width="1.5"/>
<polyline points="479.5,786 519.3,718.4" stroke-width="2.7"/>
<polyline points="489,800 550.8,695.1" stroke-width="2.7" stroke-dasharray="28 3 2.5 3"/>
<polyline points="496.4,786 529.8,729.2" stroke-width="2.7"/>
<polyline points="502.8,787 560.4,689.2" stroke-width="2.7"/>
<polyline points="509.2,788 562.6,697.4" stroke-width="2.7"/>
<polyline points="516.4,789 581.5,678.4" stroke-width="2.7"/>
<polyline points="524.4,790 568.1,715.8" stroke-width="2.7"/>
<polyline points="531.6,791 570.9,724.4" stroke-width="2.7"/>
<polyline points="538.8,792 570.5,738.1" stroke-width="2.7"/>
<polyline points="546,794 605.7,692.7" stroke-width="2.7"/>
<circle cx="646" cy="849" r="21" stroke-width="2.7" fill="#fdfdfd"/>
<circle cx="646" cy="849" r="11" stroke-width="2.7" fill="#fdfdfd"/>
<polyline points="635.6,855 628.7,859" stroke-width="2"/>
<polyline points="634,850 626.1,850.7" stroke-width="2"/>
<polyline points="634.7,844.9 627.2,842.2" stroke-width="2"/>
<polyline points="637.5,840.5 631.9,834.9" stroke-width="2"/>
<polyline points="641.9,837.7 639.2,830.2" stroke-width="2"/>
<text x="0" y="0" transform="translate(716 836) rotate(-75)" font-size="21.1" font-style="italic" font-weight="normal" text-anchor="middle">16</text>
<polyline points="667,836 692,834" stroke-width="1.8"/>
<ellipse cx="888" cy="629.5" rx="82" ry="80.5" stroke-width="2.7" fill="none"/>
<polyline points="819.6,598.2 817.5,603 815.8,607.9 814.4,612.9 813.4,618 812.8,623.2 812.5,628.4 812.6,633.5 813.1,638.7 813.9,643.8 815.1,648.9 816.7,653.8 818.6,658.7 820.9,663.4 823.5,667.9 826.4,672.2 829.6,676.4 833.1,680.3 836.8,683.9 840.8,687.3 845.1,690.4 849.6,693.2 854.2,695.7 859,697.8 864,699.7 869,701.1 874.2,702.3 879.5,703 884.7,703.4 890,703.5 895.3,703.2 900.6,702.5 905.7,701.4 910.8,700 915.8,698.3 920.7,696.2 925.4,693.8 929.9,691.1 934.2,688 938.2,684.7 942.1,681.1 945.6,677.3 948.9,673.2 951.9,668.9 954.5,664.5 956.9,659.8 958.9,655 960.5,650.1 961.8,645 962.7,639.9 963.3,634.8 963.5,629.6 963.3,624.4 962.8,619.2 961.9,614.1" stroke-width="2.3" stroke-dasharray="15 4"/>
<polyline points="822.2,606.1 820.7,610.6 819.5,615.3 818.7,620 818.2,624.7 818,629.5 818.2,634.3 818.7,639 819.5,643.7 820.7,648.4 822.2,652.9 824.1,657.4 826.2,661.7 828.6,665.8 831.4,669.8 834.4,673.5 837.6,677.1 841.2,680.4 844.9,683.5 848.9,686.3 853,688.8 857.3,691.1 861.8,693 866.4,694.6 871.1,696 875.8,697 880.7,697.6 885.6,698 890.4,698 895.3,697.6 900.2,697 904.9,696 909.6,694.6 914.2,693 918.7,691.1 923,688.8 927.1,686.3 931.1,683.5 934.8,680.4 938.4,677.1 941.6,673.5 944.6,669.8 947.4,665.8 949.8,661.7 951.9,657.4 953.8,652.9 955.3,648.4 956.5,643.7 957.3,639 957.8,634.3 958,629.5 957.8,624.7 957.3,620" stroke-width="2.5"/>
<path d="M969,607 L981,607 A3,3 0 0 1 981,613 L969,613" stroke-width="2.5" fill="none"/>
<path d="M969,625 L981,625 A3,3 0 0 1 981,631 L969,631" stroke-width="2.5" fill="none"/>
<path d="M969,649 L981,649 A3,3 0 0 1 981,655 L969,655" stroke-width="2.5" fill="none"/>
<polyline points="815,578.8 935,643.8 881,627.5 917.5,673.8 832.5,597.5" stroke-width="2.7"/>
<polygon points="863.9,582.5 847.4,577.5 851.6,570.4" fill="#141414" stroke-width="0.6"/>
<text x="0" y="0" transform="translate(909 613) rotate(210)" font-size="18.5" font-style="italic" font-weight="normal" text-anchor="middle" letter-spacing="0.6">На пожаро-</text>
<text x="0" y="0" transform="translate(923 587) rotate(210)" font-size="18.5" font-style="italic" font-weight="normal" text-anchor="middle" letter-spacing="0.6">тушение</text>
<text x="0" y="0" transform="translate(866 512) rotate(-75)" font-size="19.2" font-style="italic" font-weight="normal" text-anchor="middle">14</text>
<polyline points="864,527.5 877.5,552.5" stroke-width="2"/>
<polygon points="584.4,518.5 580.1,534 572.9,529.8" fill="#141414" stroke-width="0.6"/>
<polygon points="574.3,545.1 570,560.6 562.8,556.4" fill="#141414" stroke-width="0.6"/>
<polygon points="616.7,541.6 621,526 628.2,530.2" fill="#141414" stroke-width="0.6"/>
<polygon points="593.7,555.9 598,540.3 605.2,544.6" fill="#141414" stroke-width="0.6"/>
<polygon points="605.6,578 610,562.5 617.1,566.7" fill="#141414" stroke-width="0.6"/>
<polygon points="605.7,590.3 601.4,605.8 594.2,601.6" fill="#141414" stroke-width="0.6"/>
<polygon points="643.4,556.8 639.1,572.3 631.9,568.1" fill="#141414" stroke-width="0.6"/>
<polygon points="657.2,550.4 661.5,534.8 668.7,539" fill="#141414" stroke-width="0.6"/>
<polygon points="679.4,543.1 675.1,558.7 667.9,554.5" fill="#141414" stroke-width="0.6"/>
<polygon points="577.9,596.5 582.2,580.9 589.4,585.2" fill="#141414" stroke-width="0.6"/>
<polygon points="593.7,626.1 589.3,641.6 582.2,637.4" fill="#141414" stroke-width="0.6"/>
<polygon points="603,657.7 607.3,642.2 614.5,646.4" fill="#141414" stroke-width="0.6"/>
<polygon points="431.9,777.4 436.2,761.9 443.4,766.1" fill="#141414" stroke-width="0.6"/>
<polygon points="445.6,773.9 449.9,758.3 457.1,762.5" fill="#141414" stroke-width="0.6"/>
<polygon points="647.4,657.8 643.1,673.3 635.9,669.1" fill="#141414" stroke-width="0.6"/>
<polygon points="637.8,689.8 642.2,674.3 649.3,678.5" fill="#141414" stroke-width="0.6"/>
<polygon points="754.6,542.5 769.1,546.3 765,553.2" fill="#141414" stroke-width="0.6"/>
<polygon points="788.8,577.7 774.4,573.8 778.4,566.9" fill="#141414" stroke-width="0.6"/>
</g>
</svg>
</body></html>
